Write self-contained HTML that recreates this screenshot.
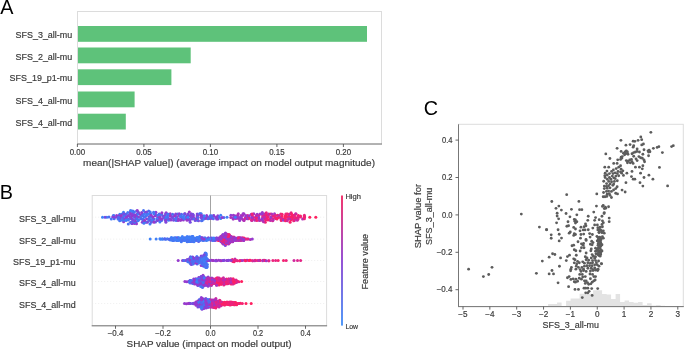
<!DOCTYPE html>
<html><head><meta charset="utf-8"><style>
html,body{margin:0;padding:0;background:#fff;}
svg{display:block;font-family:"Liberation Sans",sans-serif;filter:blur(0.35px);}
</style></head><body>
<svg width="685" height="350" viewBox="0 0 685 350">
<text x="0.3" y="13.6" font-size="19.8" text-anchor="start" fill="#000" >A</text>
<text x="-0.3" y="198.7" font-size="19.8" text-anchor="start" fill="#000" >B</text>
<text x="423.8" y="115.0" font-size="19.8" text-anchor="start" fill="#000" >C</text>
<rect x="77.5" y="11.5" width="304.0" height="132.5" fill="none" stroke="#dcdcdc" stroke-width="1"/>
<rect x="78.0" y="26.00" width="289.00" height="15.8" fill="#5ec27a"/>
<text x="72.2" y="38.00" font-size="8.9" text-anchor="end" fill="#3a3a3a" stroke="#3a3a3a" stroke-width="0.18" textLength="56.6" lengthAdjust="spacingAndGlyphs" >SFS_3_all-mu</text>
<rect x="78.0" y="47.50" width="112.70" height="15.8" fill="#5ec27a"/>
<text x="72.2" y="59.50" font-size="8.9" text-anchor="end" fill="#3a3a3a" stroke="#3a3a3a" stroke-width="0.18" textLength="56.6" lengthAdjust="spacingAndGlyphs" >SFS_2_all-mu</text>
<rect x="78.0" y="69.30" width="93.40" height="15.8" fill="#5ec27a"/>
<text x="72.2" y="81.30" font-size="8.9" text-anchor="end" fill="#3a3a3a" stroke="#3a3a3a" stroke-width="0.18" textLength="62.6" lengthAdjust="spacingAndGlyphs" >SFS_19_p1-mu</text>
<rect x="78.0" y="91.50" width="56.60" height="15.8" fill="#5ec27a"/>
<text x="72.2" y="103.50" font-size="8.9" text-anchor="end" fill="#3a3a3a" stroke="#3a3a3a" stroke-width="0.18" textLength="56.6" lengthAdjust="spacingAndGlyphs" >SFS_4_all-mu</text>
<rect x="78.0" y="113.70" width="47.80" height="15.8" fill="#5ec27a"/>
<text x="72.2" y="125.70" font-size="8.9" text-anchor="end" fill="#3a3a3a" stroke="#3a3a3a" stroke-width="0.18" textLength="56.6" lengthAdjust="spacingAndGlyphs" >SFS_4_all-md</text>
<line x1="77.0" y1="144.0" x2="382.0" y2="144.0" stroke="#777" stroke-width="1"/>
<line x1="77.4" y1="144.0" x2="77.4" y2="147.0" stroke="#555" stroke-width="0.9"/>
<text x="77.4" y="154.5" font-size="8.2" text-anchor="middle" fill="#3a3a3a" stroke="#3a3a3a" stroke-width="0.18" textLength="15.4" lengthAdjust="spacingAndGlyphs" >0.00</text>
<line x1="143.9" y1="144.0" x2="143.9" y2="147.0" stroke="#555" stroke-width="0.9"/>
<text x="143.9" y="154.5" font-size="8.2" text-anchor="middle" fill="#3a3a3a" stroke="#3a3a3a" stroke-width="0.18" textLength="15.4" lengthAdjust="spacingAndGlyphs" >0.05</text>
<line x1="210.4" y1="144.0" x2="210.4" y2="147.0" stroke="#555" stroke-width="0.9"/>
<text x="210.4" y="154.5" font-size="8.2" text-anchor="middle" fill="#3a3a3a" stroke="#3a3a3a" stroke-width="0.18" textLength="15.4" lengthAdjust="spacingAndGlyphs" >0.10</text>
<line x1="276.9" y1="144.0" x2="276.9" y2="147.0" stroke="#555" stroke-width="0.9"/>
<text x="276.9" y="154.5" font-size="8.2" text-anchor="middle" fill="#3a3a3a" stroke="#3a3a3a" stroke-width="0.18" textLength="15.4" lengthAdjust="spacingAndGlyphs" >0.15</text>
<line x1="343.4" y1="144.0" x2="343.4" y2="147.0" stroke="#555" stroke-width="0.9"/>
<text x="343.4" y="154.5" font-size="8.2" text-anchor="middle" fill="#3a3a3a" stroke="#3a3a3a" stroke-width="0.18" textLength="15.4" lengthAdjust="spacingAndGlyphs" >0.20</text>
<text x="83.1" y="165.6" font-size="9.3" text-anchor="start" fill="#3a3a3a" stroke="#3a3a3a" stroke-width="0.18" textLength="291.9" lengthAdjust="spacingAndGlyphs" >mean(|SHAP value|) (average impact on model output magnitude)</text>
<rect x="92.2" y="195.5" width="234.40000000000003" height="130.3" fill="none" stroke="#dcdcdc" stroke-width="1"/>
<line x1="92.2" y1="217.2" x2="326.6" y2="217.2" stroke="#e4e4e4" stroke-width="0.6" stroke-dasharray="1,2"/>
<text x="75.6" y="222.00" font-size="8.9" text-anchor="end" fill="#3a3a3a" stroke="#3a3a3a" stroke-width="0.18" textLength="56.6" lengthAdjust="spacingAndGlyphs" >SFS_3_all-mu</text>
<line x1="92.2" y1="239.1" x2="326.6" y2="239.1" stroke="#e4e4e4" stroke-width="0.6" stroke-dasharray="1,2"/>
<text x="75.6" y="243.90" font-size="8.9" text-anchor="end" fill="#3a3a3a" stroke="#3a3a3a" stroke-width="0.18" textLength="56.6" lengthAdjust="spacingAndGlyphs" >SFS_2_all-mu</text>
<line x1="92.2" y1="260.5" x2="326.6" y2="260.5" stroke="#e4e4e4" stroke-width="0.6" stroke-dasharray="1,2"/>
<text x="75.6" y="265.30" font-size="8.9" text-anchor="end" fill="#3a3a3a" stroke="#3a3a3a" stroke-width="0.18" textLength="62.6" lengthAdjust="spacingAndGlyphs" >SFS_19_p1-mu</text>
<line x1="92.2" y1="281.5" x2="326.6" y2="281.5" stroke="#e4e4e4" stroke-width="0.6" stroke-dasharray="1,2"/>
<text x="75.6" y="286.30" font-size="8.9" text-anchor="end" fill="#3a3a3a" stroke="#3a3a3a" stroke-width="0.18" textLength="56.6" lengthAdjust="spacingAndGlyphs" >SFS_4_all-mu</text>
<line x1="92.2" y1="303.5" x2="326.6" y2="303.5" stroke="#e4e4e4" stroke-width="0.6" stroke-dasharray="1,2"/>
<text x="75.6" y="308.30" font-size="8.9" text-anchor="end" fill="#3a3a3a" stroke="#3a3a3a" stroke-width="0.18" textLength="56.6" lengthAdjust="spacingAndGlyphs" >SFS_4_all-md</text>
<line x1="210.5" y1="195.5" x2="210.5" y2="325.8" stroke="#999" stroke-width="0.9"/>
<g><circle cx="232.5" cy="241.6" r="1.5" fill="#a234c3"/><circle cx="199.7" cy="236.5" r="1.5" fill="#4579f5"/><circle cx="229.1" cy="304.5" r="1.5" fill="#f32273"/><circle cx="213.6" cy="283.0" r="1.5" fill="#e1258b"/><circle cx="197.0" cy="303.4" r="1.5" fill="#903cd3"/><circle cx="142.9" cy="219.1" r="1.5" fill="#5269ef"/><circle cx="202.2" cy="220.5" r="1.5" fill="#4a71f2"/><circle cx="193.0" cy="237.8" r="1.5" fill="#4776f4"/><circle cx="206.1" cy="265.0" r="1.5" fill="#4a72f2"/><circle cx="270.3" cy="218.9" r="1.5" fill="#fd2064"/><circle cx="190.2" cy="222.2" r="1.5" fill="#764de0"/><circle cx="213.8" cy="215.8" r="1.5" fill="#437bf5"/><circle cx="222.4" cy="302.2" r="1.5" fill="#fa2168"/><circle cx="218.4" cy="304.5" r="1.5" fill="#c929a3"/><circle cx="188.5" cy="259.5" r="1.5" fill="#4973f3"/><circle cx="246.2" cy="260.2" r="1.5" fill="#e22489"/><circle cx="128.6" cy="219.1" r="1.5" fill="#516aef"/><circle cx="222.0" cy="281.7" r="1.5" fill="#d82694"/><circle cx="267.1" cy="215.6" r="1.5" fill="#ed237a"/><circle cx="118.9" cy="219.0" r="1.5" fill="#8c3ed6"/><circle cx="207.4" cy="239.1" r="1.5" fill="#923cd1"/><circle cx="212.9" cy="240.4" r="1.5" fill="#427df6"/><circle cx="230.6" cy="283.8" r="1.5" fill="#fe2061"/><circle cx="206.9" cy="267.6" r="1.5" fill="#427cf6"/><circle cx="227.8" cy="260.5" r="1.5" fill="#943acf"/><circle cx="226.8" cy="236.8" r="1.5" fill="#8841d8"/><circle cx="291.1" cy="212.7" r="1.5" fill="#e92480"/><circle cx="234.9" cy="304.7" r="1.5" fill="#e92480"/><circle cx="134.3" cy="217.1" r="1.5" fill="#437bf5"/><circle cx="230.0" cy="280.6" r="1.5" fill="#f6226e"/><circle cx="123.6" cy="221.8" r="1.5" fill="#923bd1"/><circle cx="288.8" cy="215.9" r="1.5" fill="#a234c3"/><circle cx="204.8" cy="266.2" r="1.5" fill="#4775f3"/><circle cx="204.4" cy="300.2" r="1.5" fill="#913cd2"/><circle cx="210.9" cy="240.3" r="1.5" fill="#7a4ade"/><circle cx="190.7" cy="241.4" r="1.5" fill="#6857e6"/><circle cx="222.4" cy="243.0" r="1.5" fill="#f8216a"/><circle cx="222.5" cy="260.6" r="1.5" fill="#8543d9"/><circle cx="196.0" cy="282.8" r="1.5" fill="#3f81f8"/><circle cx="206.5" cy="302.3" r="1.5" fill="#447af5"/><circle cx="176.1" cy="239.4" r="1.5" fill="#3f80f7"/><circle cx="223.8" cy="285.1" r="1.5" fill="#e42487"/><circle cx="285.4" cy="218.6" r="1.5" fill="#fa2167"/><circle cx="215.4" cy="279.0" r="1.5" fill="#ba2cb1"/><circle cx="219.2" cy="240.6" r="1.5" fill="#903cd3"/><circle cx="205.0" cy="277.7" r="1.5" fill="#9c37c8"/><circle cx="230.4" cy="236.7" r="1.5" fill="#ad31bb"/><circle cx="212.4" cy="217.4" r="1.5" fill="#4578f4"/><circle cx="157.7" cy="217.4" r="1.5" fill="#903cd3"/><circle cx="197.5" cy="218.9" r="1.5" fill="#5666ed"/><circle cx="131.2" cy="218.7" r="1.5" fill="#506bef"/><circle cx="268.0" cy="220.1" r="1.5" fill="#fa2169"/><circle cx="192.0" cy="282.8" r="1.5" fill="#8a3fd7"/><circle cx="219.6" cy="305.0" r="1.5" fill="#ac31bc"/><circle cx="170.7" cy="215.6" r="1.5" fill="#9a38ca"/><circle cx="208.9" cy="284.9" r="1.5" fill="#9938cb"/><circle cx="211.9" cy="306.2" r="1.5" fill="#a533c1"/><circle cx="293.9" cy="215.3" r="1.5" fill="#ed237a"/><circle cx="202.3" cy="284.2" r="1.5" fill="#9739cd"/><circle cx="206.0" cy="303.2" r="1.5" fill="#744ee1"/><circle cx="183.7" cy="239.0" r="1.5" fill="#5e5fea"/><circle cx="205.8" cy="281.2" r="1.5" fill="#447af5"/><circle cx="201.4" cy="276.4" r="1.5" fill="#9639cd"/><circle cx="145.2" cy="212.2" r="1.5" fill="#903cd3"/><circle cx="260.0" cy="213.9" r="1.5" fill="#9a38ca"/><circle cx="201.9" cy="240.1" r="1.5" fill="#774ce0"/><circle cx="144.6" cy="217.0" r="1.5" fill="#4479f5"/><circle cx="221.1" cy="240.4" r="1.5" fill="#8b3fd7"/><circle cx="146.8" cy="212.1" r="1.5" fill="#8245db"/><circle cx="203.4" cy="240.0" r="1.5" fill="#9d36c7"/><circle cx="208.8" cy="283.8" r="1.5" fill="#bc2caf"/><circle cx="120.7" cy="217.3" r="1.5" fill="#774ce0"/><circle cx="170.2" cy="213.7" r="1.5" fill="#9c37c8"/><circle cx="213.6" cy="260.4" r="1.5" fill="#a035c5"/><circle cx="236.4" cy="303.8" r="1.5" fill="#f22274"/><circle cx="211.2" cy="306.1" r="1.5" fill="#ae30ba"/><circle cx="295.6" cy="217.4" r="1.5" fill="#f7226d"/><circle cx="272.6" cy="215.9" r="1.5" fill="#ba2cb0"/><circle cx="148.7" cy="211.1" r="1.5" fill="#516aef"/><circle cx="208.1" cy="307.1" r="1.5" fill="#9b37c9"/><circle cx="142.4" cy="214.0" r="1.5" fill="#7e47dc"/><circle cx="298.4" cy="215.6" r="1.5" fill="#f8216c"/><circle cx="195.8" cy="281.4" r="1.5" fill="#4b70f1"/><circle cx="216.3" cy="281.4" r="1.5" fill="#fe2062"/><circle cx="213.2" cy="302.2" r="1.5" fill="#e32488"/><circle cx="200.8" cy="258.0" r="1.5" fill="#4b70f1"/><circle cx="172.5" cy="217.0" r="1.5" fill="#5765ed"/><circle cx="149.0" cy="218.9" r="1.5" fill="#933bd0"/><circle cx="201.6" cy="300.9" r="1.5" fill="#4e6cf0"/><circle cx="148.8" cy="220.5" r="1.5" fill="#4972f2"/><circle cx="198.7" cy="304.6" r="1.5" fill="#953acf"/><circle cx="223.8" cy="281.7" r="1.5" fill="#b22fb7"/><circle cx="201.3" cy="297.4" r="1.5" fill="#8b3fd7"/><circle cx="206.8" cy="260.4" r="1.5" fill="#8c3ed6"/><circle cx="243.1" cy="238.2" r="1.5" fill="#fb2167"/><circle cx="164.0" cy="217.4" r="1.5" fill="#933bd0"/><circle cx="155.9" cy="212.2" r="1.5" fill="#8940d7"/><circle cx="159.3" cy="214.0" r="1.5" fill="#8a3fd7"/><circle cx="199.0" cy="277.7" r="1.5" fill="#9a38ca"/><circle cx="162.6" cy="215.8" r="1.5" fill="#764de0"/><circle cx="202.4" cy="307.3" r="1.5" fill="#4c6ef1"/><circle cx="199.4" cy="299.6" r="1.5" fill="#5864ec"/><circle cx="225.5" cy="232.9" r="1.5" fill="#8c3ed6"/><circle cx="197.2" cy="304.9" r="1.5" fill="#903cd3"/><circle cx="170.9" cy="220.1" r="1.5" fill="#9839cc"/><circle cx="217.0" cy="240.1" r="1.5" fill="#fe2062"/><circle cx="220.6" cy="304.8" r="1.5" fill="#c12baa"/><circle cx="240.2" cy="240.4" r="1.5" fill="#f12275"/><circle cx="219.0" cy="279.4" r="1.5" fill="#ef2378"/><circle cx="203.1" cy="216.9" r="1.5" fill="#744ee1"/><circle cx="199.8" cy="240.5" r="1.5" fill="#447af5"/><circle cx="259.8" cy="260.6" r="1.5" fill="#c22baa"/><circle cx="206.2" cy="254.5" r="1.5" fill="#4d6ef1"/><circle cx="219.4" cy="281.6" r="1.5" fill="#e0258c"/><circle cx="189.4" cy="241.5" r="1.5" fill="#407ff7"/><circle cx="222.8" cy="239.3" r="1.5" fill="#f52270"/><circle cx="209.8" cy="280.1" r="1.5" fill="#b72db3"/><circle cx="264.4" cy="215.8" r="1.5" fill="#f22275"/><circle cx="201.3" cy="283.6" r="1.5" fill="#9b37c9"/><circle cx="237.9" cy="303.5" r="1.5" fill="#fb2166"/><circle cx="190.0" cy="239.4" r="1.5" fill="#447af5"/><circle cx="130.2" cy="214.2" r="1.5" fill="#9938cb"/><circle cx="203.9" cy="298.9" r="1.5" fill="#4a71f2"/><circle cx="219.8" cy="282.4" r="1.5" fill="#e2248a"/><circle cx="203.4" cy="306.0" r="1.5" fill="#7d48dd"/><circle cx="290.7" cy="220.1" r="1.5" fill="#fd2063"/><circle cx="289.3" cy="217.1" r="1.5" fill="#f6226e"/><circle cx="198.5" cy="260.8" r="1.5" fill="#427df6"/><circle cx="210.4" cy="302.6" r="1.5" fill="#e42486"/><circle cx="239.9" cy="237.6" r="1.5" fill="#b92db1"/><circle cx="201.1" cy="262.6" r="1.5" fill="#4d6ef1"/><circle cx="213.9" cy="283.6" r="1.5" fill="#d92694"/><circle cx="205.5" cy="306.9" r="1.5" fill="#903cd2"/><circle cx="235.0" cy="259.0" r="1.5" fill="#ba2cb1"/><circle cx="207.7" cy="302.2" r="1.5" fill="#3f80f7"/><circle cx="233.9" cy="280.1" r="1.5" fill="#c52aa7"/><circle cx="219.6" cy="238.8" r="1.5" fill="#cf289d"/><circle cx="217.7" cy="281.3" r="1.5" fill="#da2693"/><circle cx="219.4" cy="239.2" r="1.5" fill="#9d36c8"/><circle cx="192.7" cy="283.6" r="1.5" fill="#4578f5"/><circle cx="209.0" cy="218.6" r="1.5" fill="#9938cb"/><circle cx="241.5" cy="240.3" r="1.5" fill="#f22274"/><circle cx="204.6" cy="281.8" r="1.5" fill="#9b37c9"/><circle cx="155.6" cy="215.5" r="1.5" fill="#9c37c8"/><circle cx="201.2" cy="261.6" r="1.5" fill="#427df6"/><circle cx="182.6" cy="216.9" r="1.5" fill="#9d36c8"/><circle cx="202.5" cy="262.7" r="1.5" fill="#4578f4"/><circle cx="203.6" cy="286.1" r="1.5" fill="#8245db"/><circle cx="200.2" cy="261.4" r="1.5" fill="#4e6cf0"/><circle cx="225.7" cy="280.5" r="1.5" fill="#f8216b"/><circle cx="157.8" cy="219.1" r="1.5" fill="#4a71f2"/><circle cx="197.9" cy="259.3" r="1.5" fill="#9b37c9"/><circle cx="228.4" cy="243.6" r="1.5" fill="#ef2378"/><circle cx="191.2" cy="238.8" r="1.5" fill="#417ef7"/><circle cx="218.5" cy="284.1" r="1.5" fill="#d1279b"/><circle cx="181.2" cy="238.8" r="1.5" fill="#4080f7"/><circle cx="224.0" cy="303.7" r="1.5" fill="#f32273"/><circle cx="203.0" cy="275.2" r="1.5" fill="#9c37c8"/><circle cx="251.5" cy="218.7" r="1.5" fill="#e42487"/><circle cx="202.2" cy="285.1" r="1.5" fill="#8245db"/><circle cx="134.4" cy="223.4" r="1.5" fill="#9f36c6"/><circle cx="222.3" cy="280.3" r="1.5" fill="#fe2061"/><circle cx="296.1" cy="214.1" r="1.5" fill="#e72483"/><circle cx="228.7" cy="278.8" r="1.5" fill="#d72696"/><circle cx="196.0" cy="238.0" r="1.5" fill="#417ef7"/><circle cx="196.0" cy="304.9" r="1.5" fill="#9f35c6"/><circle cx="238.8" cy="303.6" r="1.5" fill="#ed237a"/><circle cx="252.7" cy="260.8" r="1.5" fill="#c12bab"/><circle cx="176.2" cy="220.6" r="1.5" fill="#427cf6"/><circle cx="143.5" cy="210.6" r="1.5" fill="#4973f3"/><circle cx="224.8" cy="282.6" r="1.5" fill="#c829a4"/><circle cx="208.4" cy="307.2" r="1.5" fill="#8642d9"/><circle cx="203.6" cy="266.3" r="1.5" fill="#3e82f8"/><circle cx="176.7" cy="217.0" r="1.5" fill="#8940d7"/><circle cx="177.3" cy="237.9" r="1.5" fill="#447af5"/><circle cx="202.4" cy="298.6" r="1.5" fill="#a035c5"/><circle cx="192.7" cy="257.1" r="1.5" fill="#764ce0"/><circle cx="150.0" cy="223.9" r="1.5" fill="#427cf6"/><circle cx="197.2" cy="264.0" r="1.5" fill="#4a71f2"/><circle cx="216.1" cy="306.2" r="1.5" fill="#ac31bc"/><circle cx="185.6" cy="218.7" r="1.5" fill="#a035c5"/><circle cx="158.2" cy="220.2" r="1.5" fill="#774ce0"/><circle cx="161.6" cy="220.5" r="1.5" fill="#4973f2"/><circle cx="205.5" cy="239.2" r="1.5" fill="#4d6df0"/><circle cx="153.2" cy="220.7" r="1.5" fill="#8344da"/><circle cx="190.2" cy="259.1" r="1.5" fill="#8344da"/><circle cx="176.2" cy="217.1" r="1.5" fill="#4a72f2"/><circle cx="216.7" cy="260.7" r="1.5" fill="#9639cd"/><circle cx="189.1" cy="303.2" r="1.5" fill="#943acf"/><circle cx="118.0" cy="219.0" r="1.5" fill="#4776f4"/><circle cx="260.7" cy="220.2" r="1.5" fill="#e0258c"/><circle cx="262.7" cy="217.4" r="1.5" fill="#d42798"/><circle cx="206.3" cy="303.5" r="1.5" fill="#4677f4"/><circle cx="286.9" cy="214.0" r="1.5" fill="#fd2064"/><circle cx="155.5" cy="222.0" r="1.5" fill="#5567ee"/><circle cx="211.4" cy="285.4" r="1.5" fill="#ac31bb"/><circle cx="300.5" cy="215.9" r="1.5" fill="#ff2060"/><circle cx="236.3" cy="240.4" r="1.5" fill="#9e36c7"/><circle cx="280.9" cy="218.7" r="1.5" fill="#c62aa5"/><circle cx="165.9" cy="222.3" r="1.5" fill="#7f46dc"/><circle cx="217.9" cy="219.0" r="1.5" fill="#8c3ed6"/><circle cx="203.3" cy="304.4" r="1.5" fill="#4b70f1"/><circle cx="136.6" cy="210.9" r="1.5" fill="#4d6df0"/><circle cx="251.9" cy="220.6" r="1.5" fill="#a832bf"/><circle cx="230.9" cy="215.3" r="1.5" fill="#903cd3"/><circle cx="201.2" cy="238.8" r="1.5" fill="#8741d8"/><circle cx="140.9" cy="215.3" r="1.5" fill="#9938cb"/><circle cx="224.6" cy="234.0" r="1.5" fill="#903cd2"/><circle cx="189.3" cy="259.0" r="1.5" fill="#516aef"/><circle cx="196.5" cy="260.5" r="1.5" fill="#9e36c7"/><circle cx="212.5" cy="238.9" r="1.5" fill="#933bd0"/><circle cx="199.2" cy="260.3" r="1.5" fill="#407ff7"/><circle cx="122.1" cy="214.1" r="1.5" fill="#4874f3"/><circle cx="232.7" cy="240.2" r="1.5" fill="#bf2bac"/><circle cx="186.8" cy="281.7" r="1.5" fill="#903cd3"/><circle cx="201.3" cy="281.3" r="1.5" fill="#8d3dd5"/><circle cx="184.2" cy="237.8" r="1.5" fill="#5f5eea"/><circle cx="176.2" cy="219.0" r="1.5" fill="#9a38ca"/><circle cx="224.2" cy="235.6" r="1.5" fill="#a832bf"/><circle cx="166.1" cy="212.7" r="1.5" fill="#943acf"/><circle cx="247.4" cy="239.1" r="1.5" fill="#943acf"/><circle cx="287.0" cy="217.0" r="1.5" fill="#f42271"/><circle cx="217.7" cy="302.1" r="1.5" fill="#e0258b"/><circle cx="232.5" cy="239.0" r="1.5" fill="#f42272"/><circle cx="190.6" cy="303.5" r="1.5" fill="#764de0"/><circle cx="197.8" cy="285.4" r="1.5" fill="#7b49de"/><circle cx="200.8" cy="259.0" r="1.5" fill="#4972f2"/><circle cx="243.7" cy="238.8" r="1.5" fill="#9639cd"/><circle cx="253.4" cy="217.5" r="1.5" fill="#af30b9"/><circle cx="201.7" cy="260.3" r="1.5" fill="#3f80f7"/><circle cx="271.0" cy="217.1" r="1.5" fill="#df258d"/><circle cx="196.9" cy="256.6" r="1.5" fill="#4973f3"/><circle cx="204.7" cy="282.6" r="1.5" fill="#3e81f8"/><circle cx="195.4" cy="240.3" r="1.5" fill="#4d6df0"/><circle cx="247.6" cy="215.4" r="1.5" fill="#e32488"/><circle cx="255.9" cy="218.7" r="1.5" fill="#bf2bac"/><circle cx="304.7" cy="217.0" r="1.5" fill="#e9237f"/><circle cx="192.0" cy="218.9" r="1.5" fill="#754de1"/><circle cx="193.7" cy="278.9" r="1.5" fill="#953ace"/><circle cx="126.6" cy="217.4" r="1.5" fill="#417ef7"/><circle cx="217.8" cy="277.7" r="1.5" fill="#c32aa9"/><circle cx="224.2" cy="260.2" r="1.5" fill="#8a3fd7"/><circle cx="218.5" cy="240.6" r="1.5" fill="#ff2061"/><circle cx="210.6" cy="303.7" r="1.5" fill="#c829a3"/><circle cx="132.2" cy="221.9" r="1.5" fill="#943bcf"/><circle cx="167.7" cy="217.5" r="1.5" fill="#4676f4"/><circle cx="219.1" cy="307.1" r="1.5" fill="#c72aa5"/><circle cx="213.7" cy="215.4" r="1.5" fill="#963ace"/><circle cx="227.1" cy="235.6" r="1.5" fill="#8046dc"/><circle cx="128.3" cy="223.9" r="1.5" fill="#4b70f1"/><circle cx="202.4" cy="286.0" r="1.5" fill="#7c49dd"/><circle cx="216.7" cy="281.7" r="1.5" fill="#f02377"/><circle cx="228.0" cy="241.4" r="1.5" fill="#9d36c7"/><circle cx="200.3" cy="280.0" r="1.5" fill="#7a4ade"/><circle cx="210.9" cy="218.6" r="1.5" fill="#8c3ed6"/><circle cx="282.7" cy="219.1" r="1.5" fill="#af30b9"/><circle cx="223.1" cy="279.2" r="1.5" fill="#f92169"/><circle cx="191.3" cy="240.4" r="1.5" fill="#4775f3"/><circle cx="221.4" cy="303.3" r="1.5" fill="#ba2cb0"/><circle cx="197.5" cy="258.1" r="1.5" fill="#3f80f7"/><circle cx="264.7" cy="260.3" r="1.5" fill="#a334c3"/><circle cx="220.7" cy="218.5" r="1.5" fill="#417ef6"/><circle cx="266.3" cy="212.7" r="1.5" fill="#eb237e"/><circle cx="203.7" cy="279.0" r="1.5" fill="#9b37c9"/><circle cx="211.2" cy="283.6" r="1.5" fill="#bb2cb0"/><circle cx="146.0" cy="222.2" r="1.5" fill="#9938cb"/><circle cx="178.4" cy="238.9" r="1.5" fill="#5b61eb"/><circle cx="244.0" cy="237.9" r="1.5" fill="#f22274"/><circle cx="200.7" cy="304.9" r="1.5" fill="#784ce0"/><circle cx="232.3" cy="259.4" r="1.5" fill="#f8216b"/><circle cx="212.8" cy="260.6" r="1.5" fill="#9b37c9"/><circle cx="208.2" cy="301.0" r="1.5" fill="#8046db"/><circle cx="199.3" cy="301.4" r="1.5" fill="#903cd3"/><circle cx="189.4" cy="238.0" r="1.5" fill="#4973f3"/><circle cx="136.2" cy="221.7" r="1.5" fill="#8344da"/><circle cx="189.8" cy="220.1" r="1.5" fill="#8940d8"/><circle cx="155.4" cy="213.9" r="1.5" fill="#8742d9"/><circle cx="258.9" cy="215.5" r="1.5" fill="#de258f"/><circle cx="207.8" cy="299.6" r="1.5" fill="#4677f4"/><circle cx="206.7" cy="215.4" r="1.5" fill="#9639cd"/><circle cx="202.3" cy="305.7" r="1.5" fill="#5169ef"/><circle cx="222.1" cy="278.9" r="1.5" fill="#d2279b"/><circle cx="213.7" cy="305.9" r="1.5" fill="#eb237e"/><circle cx="211.2" cy="301.0" r="1.5" fill="#e72483"/><circle cx="205.9" cy="298.6" r="1.5" fill="#8741d8"/><circle cx="164.8" cy="219.1" r="1.5" fill="#437bf5"/><circle cx="201.4" cy="302.6" r="1.5" fill="#8542d9"/><circle cx="258.6" cy="218.5" r="1.5" fill="#9739cc"/><circle cx="237.4" cy="260.8" r="1.5" fill="#f8216c"/><circle cx="243.6" cy="220.2" r="1.5" fill="#a932be"/><circle cx="225.6" cy="236.9" r="1.5" fill="#fd2063"/><circle cx="201.2" cy="265.6" r="1.5" fill="#943acf"/><circle cx="234.9" cy="238.2" r="1.5" fill="#963ace"/><circle cx="152.8" cy="218.8" r="1.5" fill="#5467ee"/><circle cx="132.6" cy="215.5" r="1.5" fill="#8245db"/><circle cx="192.1" cy="257.2" r="1.5" fill="#774ce0"/><circle cx="231.5" cy="304.4" r="1.5" fill="#f42271"/><circle cx="128.5" cy="215.3" r="1.5" fill="#4874f3"/><circle cx="167.0" cy="218.7" r="1.5" fill="#5764ec"/><circle cx="216.6" cy="278.1" r="1.5" fill="#fa2169"/><circle cx="206.6" cy="285.2" r="1.5" fill="#8d3ed5"/><circle cx="245.5" cy="217.2" r="1.5" fill="#953ace"/><circle cx="268.6" cy="213.9" r="1.5" fill="#a832bf"/><circle cx="165.4" cy="220.5" r="1.5" fill="#8245db"/><circle cx="277.5" cy="215.3" r="1.5" fill="#f8216b"/><circle cx="198.5" cy="303.2" r="1.5" fill="#8543d9"/><circle cx="220.3" cy="260.6" r="1.5" fill="#8642d9"/><circle cx="191.7" cy="260.2" r="1.5" fill="#903cd3"/><circle cx="233.5" cy="260.4" r="1.5" fill="#bb2cb0"/><circle cx="241.0" cy="215.5" r="1.5" fill="#a434c2"/><circle cx="132.8" cy="211.0" r="1.5" fill="#4a72f2"/><circle cx="202.7" cy="308.2" r="1.5" fill="#8046dc"/><circle cx="217.5" cy="279.1" r="1.5" fill="#e0258c"/><circle cx="222.6" cy="237.8" r="1.5" fill="#a434c2"/><circle cx="190.9" cy="264.0" r="1.5" fill="#4a71f2"/><circle cx="113.8" cy="215.5" r="1.5" fill="#5368ee"/><circle cx="281.2" cy="220.4" r="1.5" fill="#fa2169"/><circle cx="130.2" cy="212.2" r="1.5" fill="#9938cb"/><circle cx="296.7" cy="218.9" r="1.5" fill="#f42271"/><circle cx="232.8" cy="261.5" r="1.5" fill="#f52271"/><circle cx="205.7" cy="255.9" r="1.5" fill="#4578f4"/><circle cx="283.9" cy="218.9" r="1.5" fill="#fa2168"/><circle cx="230.9" cy="278.8" r="1.5" fill="#f9216a"/><circle cx="206.0" cy="261.9" r="1.5" fill="#4b70f1"/><circle cx="172.9" cy="238.0" r="1.5" fill="#4e6df0"/><circle cx="191.9" cy="259.3" r="1.5" fill="#8a3fd7"/><circle cx="182.5" cy="260.4" r="1.5" fill="#923bd1"/><circle cx="218.4" cy="302.1" r="1.5" fill="#bf2bad"/><circle cx="217.4" cy="301.1" r="1.5" fill="#ce289e"/><circle cx="216.7" cy="280.2" r="1.5" fill="#ee237a"/><circle cx="239.3" cy="303.6" r="1.5" fill="#e82481"/><circle cx="265.3" cy="222.2" r="1.5" fill="#f22274"/><circle cx="190.3" cy="281.4" r="1.5" fill="#903cd3"/><circle cx="210.3" cy="306.8" r="1.5" fill="#a533c1"/><circle cx="245.3" cy="238.9" r="1.5" fill="#f9216a"/><circle cx="175.7" cy="237.8" r="1.5" fill="#5169ef"/><circle cx="178.0" cy="220.5" r="1.5" fill="#9a37ca"/><circle cx="227.7" cy="234.3" r="1.5" fill="#a932be"/><circle cx="292.5" cy="219.0" r="1.5" fill="#fd2063"/><circle cx="206.7" cy="278.0" r="1.5" fill="#8741d8"/><circle cx="242.3" cy="303.4" r="1.5" fill="#f32273"/><circle cx="151.3" cy="222.3" r="1.5" fill="#5864ec"/><circle cx="203.0" cy="240.6" r="1.5" fill="#407ff7"/><circle cx="204.7" cy="237.9" r="1.5" fill="#933bd0"/><circle cx="225.4" cy="304.8" r="1.5" fill="#ef2377"/><circle cx="262.6" cy="215.8" r="1.5" fill="#d82695"/><circle cx="199.7" cy="257.9" r="1.5" fill="#4a71f2"/><circle cx="157.6" cy="215.3" r="1.5" fill="#4578f4"/><circle cx="125.5" cy="215.8" r="1.5" fill="#5467ee"/><circle cx="137.9" cy="220.7" r="1.5" fill="#3f80f7"/><circle cx="113.2" cy="215.7" r="1.5" fill="#427cf6"/><circle cx="205.4" cy="279.3" r="1.5" fill="#5765ed"/><circle cx="275.0" cy="217.2" r="1.5" fill="#fd2063"/><circle cx="119.8" cy="214.2" r="1.5" fill="#3f80f7"/><circle cx="221.3" cy="278.9" r="1.5" fill="#fb2167"/><circle cx="132.4" cy="222.0" r="1.5" fill="#4d6df0"/><circle cx="201.6" cy="303.3" r="1.5" fill="#417df6"/><circle cx="239.2" cy="239.2" r="1.5" fill="#ea237f"/><circle cx="202.9" cy="239.3" r="1.5" fill="#5566ed"/><circle cx="221.9" cy="235.8" r="1.5" fill="#f6226e"/><circle cx="233.9" cy="237.0" r="1.5" fill="#fd2063"/><circle cx="133.6" cy="214.3" r="1.5" fill="#8b3fd7"/><circle cx="165.5" cy="214.0" r="1.5" fill="#754de1"/><circle cx="236.7" cy="304.8" r="1.5" fill="#fb2166"/><circle cx="289.6" cy="214.3" r="1.5" fill="#be2bae"/><circle cx="217.8" cy="238.9" r="1.5" fill="#903cd3"/><circle cx="216.0" cy="282.4" r="1.5" fill="#c52aa6"/><circle cx="212.0" cy="238.1" r="1.5" fill="#3f81f8"/><circle cx="226.5" cy="279.0" r="1.5" fill="#f9216a"/><circle cx="221.0" cy="241.8" r="1.5" fill="#943bd0"/><circle cx="206.9" cy="239.1" r="1.5" fill="#516aef"/><circle cx="204.0" cy="303.5" r="1.5" fill="#4080f7"/><circle cx="197.0" cy="302.3" r="1.5" fill="#8d3ed5"/><circle cx="198.0" cy="283.8" r="1.5" fill="#5864ec"/><circle cx="188.1" cy="239.0" r="1.5" fill="#4973f3"/><circle cx="224.8" cy="238.9" r="1.5" fill="#9d36c8"/><circle cx="196.2" cy="260.4" r="1.5" fill="#9f36c6"/><circle cx="224.9" cy="281.3" r="1.5" fill="#d1279b"/><circle cx="187.6" cy="218.6" r="1.5" fill="#7c49de"/><circle cx="221.7" cy="236.5" r="1.5" fill="#ee2379"/><circle cx="172.4" cy="238.8" r="1.5" fill="#427cf6"/><circle cx="251.3" cy="214.2" r="1.5" fill="#a135c4"/><circle cx="269.0" cy="260.8" r="1.5" fill="#c829a4"/><circle cx="165.9" cy="239.2" r="1.5" fill="#427df6"/><circle cx="196.0" cy="257.8" r="1.5" fill="#794bdf"/><circle cx="126.1" cy="218.7" r="1.5" fill="#8940d7"/><circle cx="220.6" cy="283.0" r="1.5" fill="#ea237f"/><circle cx="198.1" cy="239.0" r="1.5" fill="#437bf5"/><circle cx="187.7" cy="260.7" r="1.5" fill="#4080f7"/><circle cx="237.5" cy="215.3" r="1.5" fill="#b52eb5"/><circle cx="222.8" cy="242.9" r="1.5" fill="#8444da"/><circle cx="112.7" cy="217.1" r="1.5" fill="#913cd2"/><circle cx="240.2" cy="218.5" r="1.5" fill="#b030b8"/><circle cx="223.5" cy="236.9" r="1.5" fill="#9839cc"/><circle cx="256.2" cy="218.9" r="1.5" fill="#ef2378"/><circle cx="182.6" cy="238.2" r="1.5" fill="#4678f4"/><circle cx="202.2" cy="281.5" r="1.5" fill="#8146db"/><circle cx="196.6" cy="239.2" r="1.5" fill="#427cf6"/><circle cx="232.3" cy="303.3" r="1.5" fill="#e82481"/><circle cx="233.1" cy="219.0" r="1.5" fill="#a434c2"/><circle cx="238.3" cy="218.6" r="1.5" fill="#ac31bc"/><circle cx="223.6" cy="237.8" r="1.5" fill="#f02377"/><circle cx="285.5" cy="215.7" r="1.5" fill="#fc2164"/><circle cx="210.2" cy="215.7" r="1.5" fill="#427cf6"/><circle cx="173.6" cy="240.5" r="1.5" fill="#4874f3"/><circle cx="290.1" cy="218.6" r="1.5" fill="#ab31bd"/><circle cx="272.6" cy="220.7" r="1.5" fill="#e2248a"/><circle cx="220.1" cy="240.0" r="1.5" fill="#923bd1"/><circle cx="198.6" cy="241.6" r="1.5" fill="#645ae8"/><circle cx="202.1" cy="304.7" r="1.5" fill="#8a3fd7"/><circle cx="204.6" cy="301.3" r="1.5" fill="#5666ed"/><circle cx="219.0" cy="301.2" r="1.5" fill="#e82481"/><circle cx="216.6" cy="301.2" r="1.5" fill="#dd2590"/><circle cx="201.3" cy="284.9" r="1.5" fill="#4080f7"/><circle cx="133.2" cy="212.6" r="1.5" fill="#3e82f8"/><circle cx="166.3" cy="220.2" r="1.5" fill="#8e3dd4"/><circle cx="210.4" cy="306.9" r="1.5" fill="#cb29a1"/><circle cx="205.2" cy="261.8" r="1.5" fill="#933bd0"/><circle cx="295.0" cy="218.6" r="1.5" fill="#ed237b"/><circle cx="204.7" cy="264.4" r="1.5" fill="#427cf6"/><circle cx="227.9" cy="280.2" r="1.5" fill="#c62aa6"/><circle cx="139.2" cy="213.8" r="1.5" fill="#9d36c7"/><circle cx="197.0" cy="215.9" r="1.5" fill="#7e47dc"/><circle cx="209.8" cy="278.2" r="1.5" fill="#d3279a"/><circle cx="202.0" cy="309.3" r="1.5" fill="#8145db"/><circle cx="220.6" cy="236.4" r="1.5" fill="#9a38ca"/><circle cx="225.7" cy="302.4" r="1.5" fill="#f8216b"/><circle cx="223.9" cy="217.4" r="1.5" fill="#516aef"/><circle cx="137.3" cy="217.4" r="1.5" fill="#5864ec"/><circle cx="202.2" cy="286.2" r="1.5" fill="#9e36c7"/><circle cx="252.1" cy="215.5" r="1.5" fill="#ee2379"/><circle cx="236.2" cy="238.8" r="1.5" fill="#8d3ed6"/><circle cx="196.7" cy="281.5" r="1.5" fill="#7e48dd"/><circle cx="160.6" cy="220.3" r="1.5" fill="#744ee1"/><circle cx="180.5" cy="220.2" r="1.5" fill="#923bd1"/><circle cx="204.1" cy="284.0" r="1.5" fill="#9938cb"/><circle cx="146.6" cy="212.4" r="1.5" fill="#7c49de"/><circle cx="273.2" cy="215.8" r="1.5" fill="#ec237c"/><circle cx="194.3" cy="240.1" r="1.5" fill="#5b61eb"/><circle cx="257.2" cy="214.3" r="1.5" fill="#9938cb"/><circle cx="225.2" cy="303.8" r="1.5" fill="#f6226e"/><circle cx="197.4" cy="217.0" r="1.5" fill="#9d36c7"/><circle cx="204.7" cy="258.4" r="1.5" fill="#4578f4"/><circle cx="120.4" cy="218.8" r="1.5" fill="#754de1"/><circle cx="231.1" cy="282.9" r="1.5" fill="#c42aa8"/><circle cx="187.5" cy="239.1" r="1.5" fill="#4973f3"/><circle cx="194.0" cy="260.7" r="1.5" fill="#8642d9"/><circle cx="209.2" cy="279.3" r="1.5" fill="#ce289e"/><circle cx="147.4" cy="222.2" r="1.5" fill="#7f47dc"/><circle cx="201.8" cy="282.5" r="1.5" fill="#8f3cd3"/><circle cx="205.5" cy="301.0" r="1.5" fill="#3f81f8"/><circle cx="220.2" cy="302.2" r="1.5" fill="#ea237f"/><circle cx="131.7" cy="215.8" r="1.5" fill="#9839cc"/><circle cx="114.2" cy="218.8" r="1.5" fill="#4a71f2"/><circle cx="235.0" cy="260.4" r="1.5" fill="#fe2062"/><circle cx="234.1" cy="261.7" r="1.5" fill="#f8216c"/><circle cx="226.7" cy="282.9" r="1.5" fill="#c42aa7"/><circle cx="207.2" cy="300.0" r="1.5" fill="#4874f3"/><circle cx="187.2" cy="259.6" r="1.5" fill="#8e3dd4"/><circle cx="200.1" cy="261.7" r="1.5" fill="#4b71f2"/><circle cx="238.9" cy="281.8" r="1.5" fill="#e2248a"/><circle cx="193.3" cy="240.1" r="1.5" fill="#417ef6"/><circle cx="202.8" cy="303.5" r="1.5" fill="#953ace"/><circle cx="195.8" cy="302.1" r="1.5" fill="#9d36c8"/><circle cx="257.1" cy="260.5" r="1.5" fill="#f8216c"/><circle cx="173.6" cy="218.7" r="1.5" fill="#4d6df0"/><circle cx="211.9" cy="278.0" r="1.5" fill="#943acf"/><circle cx="193.3" cy="215.3" r="1.5" fill="#7a4adf"/><circle cx="206.0" cy="262.8" r="1.5" fill="#417ef7"/><circle cx="217.2" cy="284.1" r="1.5" fill="#dc2591"/><circle cx="228.9" cy="282.6" r="1.5" fill="#ee237a"/><circle cx="153.6" cy="212.2" r="1.5" fill="#4973f3"/><circle cx="194.7" cy="279.3" r="1.5" fill="#8642d9"/><circle cx="187.2" cy="215.5" r="1.5" fill="#903cd2"/><circle cx="178.2" cy="237.6" r="1.5" fill="#4080f7"/><circle cx="221.2" cy="305.7" r="1.5" fill="#d42799"/><circle cx="216.2" cy="260.2" r="1.5" fill="#a832bf"/><circle cx="162.7" cy="239.3" r="1.5" fill="#3f81f8"/><circle cx="288.4" cy="219.0" r="1.5" fill="#c12baa"/><circle cx="226.9" cy="282.8" r="1.5" fill="#fe2062"/><circle cx="203.7" cy="279.4" r="1.5" fill="#8046db"/><circle cx="208.5" cy="305.7" r="1.5" fill="#4b71f2"/><circle cx="136.6" cy="215.5" r="1.5" fill="#4973f3"/><circle cx="141.3" cy="218.5" r="1.5" fill="#437bf5"/><circle cx="202.0" cy="219.0" r="1.5" fill="#8741d8"/><circle cx="208.2" cy="260.4" r="1.5" fill="#9938cb"/><circle cx="222.1" cy="241.3" r="1.5" fill="#9a38ca"/><circle cx="134.4" cy="212.1" r="1.5" fill="#4775f3"/><circle cx="232.1" cy="238.0" r="1.5" fill="#f12375"/><circle cx="247.4" cy="260.2" r="1.5" fill="#ae30ba"/><circle cx="123.9" cy="215.5" r="1.5" fill="#4776f4"/><circle cx="160.6" cy="239.2" r="1.5" fill="#407ff7"/><circle cx="223.7" cy="242.7" r="1.5" fill="#903cd2"/><circle cx="240.4" cy="303.2" r="1.5" fill="#f9216a"/><circle cx="215.8" cy="281.4" r="1.5" fill="#de258f"/><circle cx="192.6" cy="258.1" r="1.5" fill="#913cd1"/><circle cx="182.3" cy="236.6" r="1.5" fill="#4080f7"/><circle cx="214.6" cy="305.8" r="1.5" fill="#ed237b"/><circle cx="131.4" cy="211.1" r="1.5" fill="#3e82f8"/><circle cx="215.7" cy="301.0" r="1.5" fill="#cd289f"/><circle cx="207.4" cy="264.4" r="1.5" fill="#437bf6"/><circle cx="235.2" cy="240.6" r="1.5" fill="#ac31bc"/><circle cx="216.6" cy="285.0" r="1.5" fill="#d52798"/><circle cx="210.9" cy="238.1" r="1.5" fill="#794bdf"/><circle cx="224.1" cy="280.4" r="1.5" fill="#ca29a2"/><circle cx="171.7" cy="238.2" r="1.5" fill="#3f80f7"/><circle cx="180.0" cy="240.1" r="1.5" fill="#437bf5"/><circle cx="202.5" cy="302.5" r="1.5" fill="#417ef7"/><circle cx="205.8" cy="257.2" r="1.5" fill="#447af5"/><circle cx="215.5" cy="283.6" r="1.5" fill="#f6226e"/><circle cx="212.8" cy="281.2" r="1.5" fill="#c12bab"/><circle cx="208.3" cy="281.2" r="1.5" fill="#be2bad"/><circle cx="231.4" cy="281.3" r="1.5" fill="#be2bad"/><circle cx="211.8" cy="281.5" r="1.5" fill="#9f36c6"/><circle cx="198.5" cy="220.7" r="1.5" fill="#8741d8"/><circle cx="208.1" cy="277.0" r="1.5" fill="#8443da"/><circle cx="206.4" cy="240.6" r="1.5" fill="#4479f5"/><circle cx="176.6" cy="240.4" r="1.5" fill="#4b6ff1"/><circle cx="155.1" cy="215.8" r="1.5" fill="#8c3ed6"/><circle cx="189.7" cy="241.4" r="1.5" fill="#4677f4"/><circle cx="216.8" cy="237.9" r="1.5" fill="#903cd3"/><circle cx="216.7" cy="284.2" r="1.5" fill="#ed237b"/><circle cx="199.0" cy="240.1" r="1.5" fill="#4578f4"/><circle cx="124.1" cy="220.1" r="1.5" fill="#4578f4"/><circle cx="217.0" cy="280.6" r="1.5" fill="#fc2165"/><circle cx="205.1" cy="217.5" r="1.5" fill="#417ef7"/><circle cx="164.5" cy="238.8" r="1.5" fill="#5b62eb"/><circle cx="186.6" cy="239.3" r="1.5" fill="#4776f4"/><circle cx="193.6" cy="282.5" r="1.5" fill="#9c37c9"/><circle cx="204.1" cy="305.6" r="1.5" fill="#4874f3"/><circle cx="190.2" cy="280.5" r="1.5" fill="#9b37ca"/><circle cx="186.9" cy="260.6" r="1.5" fill="#5764ec"/><circle cx="214.0" cy="300.0" r="1.5" fill="#ef2378"/><circle cx="189.2" cy="260.8" r="1.5" fill="#4874f3"/><circle cx="218.6" cy="237.9" r="1.5" fill="#ab31bc"/><circle cx="213.4" cy="280.0" r="1.5" fill="#ac31bc"/><circle cx="196.0" cy="305.0" r="1.5" fill="#9a38ca"/><circle cx="136.5" cy="223.7" r="1.5" fill="#913cd2"/><circle cx="225.6" cy="303.7" r="1.5" fill="#f92169"/><circle cx="241.2" cy="240.3" r="1.5" fill="#a733c0"/><circle cx="231.3" cy="260.5" r="1.5" fill="#a334c3"/><circle cx="235.1" cy="281.3" r="1.5" fill="#db2592"/><circle cx="190.5" cy="256.8" r="1.5" fill="#4972f2"/><circle cx="224.9" cy="244.2" r="1.5" fill="#8f3dd4"/><circle cx="203.6" cy="260.5" r="1.5" fill="#8940d8"/><circle cx="180.1" cy="239.0" r="1.5" fill="#437af5"/><circle cx="177.4" cy="239.4" r="1.5" fill="#447af5"/><circle cx="215.5" cy="303.3" r="1.5" fill="#cb29a1"/><circle cx="242.4" cy="219.0" r="1.5" fill="#aa32bd"/><circle cx="208.8" cy="282.9" r="1.5" fill="#a234c3"/><circle cx="147.4" cy="214.1" r="1.5" fill="#4d6df0"/><circle cx="263.2" cy="260.2" r="1.5" fill="#df258e"/><circle cx="223.2" cy="243.9" r="1.5" fill="#a733c0"/><circle cx="209.7" cy="282.5" r="1.5" fill="#9b37c9"/><circle cx="253.0" cy="218.8" r="1.5" fill="#d32799"/><circle cx="196.5" cy="262.0" r="1.5" fill="#4874f3"/><circle cx="146.2" cy="215.7" r="1.5" fill="#4e6cf0"/><circle cx="159.2" cy="214.3" r="1.5" fill="#4d6df0"/><circle cx="261.8" cy="219.1" r="1.5" fill="#903cd2"/><circle cx="203.6" cy="276.7" r="1.5" fill="#5467ee"/><circle cx="201.2" cy="255.9" r="1.5" fill="#8c3ed6"/><circle cx="176.5" cy="238.1" r="1.5" fill="#605de9"/><circle cx="244.3" cy="260.2" r="1.5" fill="#e1248b"/><circle cx="202.0" cy="284.9" r="1.5" fill="#784bdf"/><circle cx="248.2" cy="239.0" r="1.5" fill="#e82481"/><circle cx="228.4" cy="236.9" r="1.5" fill="#8f3dd3"/><circle cx="181.0" cy="215.9" r="1.5" fill="#427cf6"/><circle cx="230.8" cy="280.0" r="1.5" fill="#ff2061"/><circle cx="233.6" cy="238.2" r="1.5" fill="#f52271"/><circle cx="264.9" cy="260.6" r="1.5" fill="#fd2063"/><circle cx="262.9" cy="220.4" r="1.5" fill="#963ace"/><circle cx="203.8" cy="263.0" r="1.5" fill="#4578f4"/><circle cx="233.2" cy="303.6" r="1.5" fill="#f22274"/><circle cx="261.9" cy="213.7" r="1.5" fill="#943acf"/><circle cx="182.7" cy="239.3" r="1.5" fill="#4677f4"/><circle cx="201.8" cy="263.1" r="1.5" fill="#4d6ef1"/><circle cx="179.3" cy="240.3" r="1.5" fill="#4579f5"/><circle cx="193.0" cy="262.7" r="1.5" fill="#953acf"/><circle cx="188.0" cy="214.0" r="1.5" fill="#7a4ade"/><circle cx="222.9" cy="282.8" r="1.5" fill="#eb237d"/><circle cx="150.9" cy="214.0" r="1.5" fill="#4874f3"/><circle cx="198.9" cy="285.1" r="1.5" fill="#7a4ade"/><circle cx="215.0" cy="238.2" r="1.5" fill="#9d37c8"/><circle cx="224.3" cy="241.2" r="1.5" fill="#f92169"/><circle cx="198.8" cy="278.9" r="1.5" fill="#943acf"/><circle cx="168.6" cy="220.2" r="1.5" fill="#3e82f8"/><circle cx="203.3" cy="265.4" r="1.5" fill="#7d48dd"/><circle cx="206.8" cy="305.9" r="1.5" fill="#9739cd"/><circle cx="160.5" cy="219.1" r="1.5" fill="#9b37ca"/><circle cx="185.4" cy="237.7" r="1.5" fill="#437bf6"/><circle cx="205.7" cy="280.0" r="1.5" fill="#8b3fd7"/><circle cx="205.8" cy="304.6" r="1.5" fill="#7a4ade"/><circle cx="211.9" cy="302.3" r="1.5" fill="#d92693"/><circle cx="140.4" cy="217.1" r="1.5" fill="#4579f5"/><circle cx="127.8" cy="212.5" r="1.5" fill="#447af5"/><circle cx="235.0" cy="280.3" r="1.5" fill="#df258d"/><circle cx="131.2" cy="216.9" r="1.5" fill="#9938cb"/><circle cx="204.4" cy="282.8" r="1.5" fill="#943acf"/><circle cx="213.2" cy="306.8" r="1.5" fill="#c22baa"/><circle cx="192.5" cy="236.5" r="1.5" fill="#417ef7"/><circle cx="298.2" cy="217.1" r="1.5" fill="#fc2165"/><circle cx="215.7" cy="279.2" r="1.5" fill="#f22274"/><circle cx="176.2" cy="218.9" r="1.5" fill="#4973f3"/><circle cx="230.4" cy="305.0" r="1.5" fill="#f32272"/><circle cx="229.7" cy="235.7" r="1.5" fill="#f02377"/><circle cx="231.5" cy="283.9" r="1.5" fill="#f7226e"/><circle cx="189.1" cy="261.4" r="1.5" fill="#903cd2"/><circle cx="224.5" cy="302.2" r="1.5" fill="#eb237e"/><circle cx="229.4" cy="304.7" r="1.5" fill="#eb237d"/><circle cx="154.0" cy="218.9" r="1.5" fill="#5963ec"/><circle cx="197.1" cy="220.2" r="1.5" fill="#5467ee"/><circle cx="194.0" cy="241.7" r="1.5" fill="#417ef7"/><circle cx="201.4" cy="277.7" r="1.5" fill="#8145db"/><circle cx="125.9" cy="219.0" r="1.5" fill="#447af5"/><circle cx="200.4" cy="213.7" r="1.5" fill="#4e6cf0"/><circle cx="201.5" cy="220.7" r="1.5" fill="#4c6ff1"/><circle cx="230.3" cy="260.3" r="1.5" fill="#9938cb"/><circle cx="145.2" cy="221.7" r="1.5" fill="#4678f4"/><circle cx="232.8" cy="281.8" r="1.5" fill="#c62aa6"/><circle cx="223.4" cy="279.2" r="1.5" fill="#c72aa5"/><circle cx="197.9" cy="307.1" r="1.5" fill="#7f47dc"/><circle cx="211.7" cy="260.2" r="1.5" fill="#a334c3"/><circle cx="209.5" cy="299.6" r="1.5" fill="#5467ee"/><circle cx="182.1" cy="237.8" r="1.5" fill="#3f81f8"/><circle cx="197.6" cy="262.8" r="1.5" fill="#8e3dd4"/><circle cx="237.0" cy="281.7" r="1.5" fill="#ed237a"/><circle cx="210.5" cy="217.4" r="1.5" fill="#5467ee"/><circle cx="298.3" cy="216.9" r="1.5" fill="#b82db2"/><circle cx="228.2" cy="237.9" r="1.5" fill="#f6226e"/><circle cx="217.1" cy="304.6" r="1.5" fill="#ea237f"/><circle cx="192.9" cy="240.6" r="1.5" fill="#417df6"/><circle cx="194.5" cy="238.2" r="1.5" fill="#427cf6"/><circle cx="200.5" cy="302.0" r="1.5" fill="#963ace"/><circle cx="248.1" cy="217.5" r="1.5" fill="#9f35c6"/><circle cx="205.2" cy="264.3" r="1.5" fill="#7150e3"/><circle cx="199.0" cy="262.9" r="1.5" fill="#4479f5"/><circle cx="232.3" cy="280.1" r="1.5" fill="#f92169"/><circle cx="142.5" cy="215.4" r="1.5" fill="#4973f3"/><circle cx="200.1" cy="279.1" r="1.5" fill="#4e6cf0"/><circle cx="268.6" cy="260.7" r="1.5" fill="#e42486"/><circle cx="211.8" cy="304.5" r="1.5" fill="#cb29a1"/><circle cx="209.2" cy="303.6" r="1.5" fill="#4c6ef1"/><circle cx="229.8" cy="282.8" r="1.5" fill="#af30b9"/><circle cx="194.9" cy="281.7" r="1.5" fill="#9e36c7"/><circle cx="227.0" cy="302.0" r="1.5" fill="#fb2166"/><circle cx="234.5" cy="283.0" r="1.5" fill="#e82482"/><circle cx="233.1" cy="283.9" r="1.5" fill="#d62797"/><circle cx="185.0" cy="213.7" r="1.5" fill="#7f47dc"/><circle cx="226.7" cy="303.7" r="1.5" fill="#ee2379"/><circle cx="217.8" cy="215.8" r="1.5" fill="#8d3ed5"/><circle cx="192.2" cy="236.5" r="1.5" fill="#4579f5"/><circle cx="243.6" cy="240.4" r="1.5" fill="#bb2cb0"/><circle cx="205.5" cy="283.8" r="1.5" fill="#7d48dd"/><circle cx="212.8" cy="300.9" r="1.5" fill="#d32799"/><circle cx="200.3" cy="307.0" r="1.5" fill="#903cd3"/><circle cx="264.5" cy="218.8" r="1.5" fill="#b030b9"/><circle cx="211.7" cy="215.8" r="1.5" fill="#5269ee"/><circle cx="302.6" cy="219.1" r="1.5" fill="#b030b9"/><circle cx="216.2" cy="304.5" r="1.5" fill="#d0289d"/><circle cx="255.6" cy="217.1" r="1.5" fill="#e62484"/><circle cx="193.5" cy="217.2" r="1.5" fill="#9839cc"/><circle cx="258.7" cy="217.4" r="1.5" fill="#953ace"/><circle cx="191.1" cy="213.8" r="1.5" fill="#7e47dd"/><circle cx="200.0" cy="281.3" r="1.5" fill="#506bef"/><circle cx="206.1" cy="308.1" r="1.5" fill="#9639cd"/><circle cx="232.5" cy="238.8" r="1.5" fill="#ac31bc"/><circle cx="188.9" cy="261.4" r="1.5" fill="#8a40d7"/><circle cx="228.0" cy="281.7" r="1.5" fill="#d2279a"/><circle cx="205.3" cy="280.5" r="1.5" fill="#943acf"/><circle cx="227.3" cy="240.4" r="1.5" fill="#a733c0"/><circle cx="216.6" cy="219.1" r="1.5" fill="#8642d9"/><circle cx="238.4" cy="240.2" r="1.5" fill="#9b37c9"/><circle cx="197.4" cy="284.2" r="1.5" fill="#794bdf"/><circle cx="210.0" cy="279.4" r="1.5" fill="#b82db3"/><circle cx="195.4" cy="259.3" r="1.5" fill="#4e6cf0"/><circle cx="212.2" cy="284.1" r="1.5" fill="#9739cc"/><circle cx="159.8" cy="215.5" r="1.5" fill="#437bf5"/><circle cx="250.3" cy="239.4" r="1.5" fill="#a733bf"/><circle cx="277.2" cy="217.4" r="1.5" fill="#9739cd"/><circle cx="215.7" cy="302.6" r="1.5" fill="#d2279a"/><circle cx="234.9" cy="215.8" r="1.5" fill="#9c37c9"/><circle cx="227.6" cy="260.6" r="1.5" fill="#7d48dd"/><circle cx="196.6" cy="280.5" r="1.5" fill="#9739cd"/><circle cx="211.5" cy="279.3" r="1.5" fill="#d82695"/><circle cx="213.4" cy="307.4" r="1.5" fill="#d32799"/><circle cx="177.3" cy="214.1" r="1.5" fill="#4776f4"/><circle cx="265.3" cy="215.3" r="1.5" fill="#fe2062"/><circle cx="242.6" cy="215.4" r="1.5" fill="#b030b9"/><circle cx="143.7" cy="220.2" r="1.5" fill="#4875f3"/><circle cx="124.0" cy="218.6" r="1.5" fill="#7c49dd"/><circle cx="237.5" cy="281.3" r="1.5" fill="#f92169"/><circle cx="286.6" cy="220.2" r="1.5" fill="#eb237d"/><circle cx="224.3" cy="304.9" r="1.5" fill="#f8216c"/><circle cx="199.9" cy="301.4" r="1.5" fill="#4776f4"/><circle cx="173.6" cy="220.2" r="1.5" fill="#754de1"/><circle cx="229.2" cy="303.4" r="1.5" fill="#fc2165"/><circle cx="187.1" cy="237.8" r="1.5" fill="#427cf6"/><circle cx="220.2" cy="303.7" r="1.5" fill="#df258e"/><circle cx="237.6" cy="217.3" r="1.5" fill="#ae30ba"/><circle cx="184.2" cy="215.5" r="1.5" fill="#3e82f8"/><circle cx="206.4" cy="301.2" r="1.5" fill="#4f6bf0"/><circle cx="228.2" cy="302.2" r="1.5" fill="#f5226f"/><circle cx="202.1" cy="302.3" r="1.5" fill="#7d48dd"/><circle cx="200.1" cy="282.9" r="1.5" fill="#4677f4"/><circle cx="156.9" cy="219.1" r="1.5" fill="#3f81f7"/><circle cx="237.7" cy="239.4" r="1.5" fill="#e42486"/><circle cx="231.2" cy="237.7" r="1.5" fill="#8c3ed6"/><circle cx="207.7" cy="280.5" r="1.5" fill="#bb2cb0"/><circle cx="207.7" cy="217.2" r="1.5" fill="#754ee1"/><circle cx="218.9" cy="303.6" r="1.5" fill="#af30b9"/><circle cx="180.6" cy="238.2" r="1.5" fill="#427df6"/><circle cx="224.6" cy="282.5" r="1.5" fill="#db2592"/><circle cx="188.8" cy="220.1" r="1.5" fill="#7f47dc"/><circle cx="234.4" cy="282.9" r="1.5" fill="#fb2167"/><circle cx="130.2" cy="217.1" r="1.5" fill="#8245db"/><circle cx="185.2" cy="240.3" r="1.5" fill="#447af5"/><circle cx="186.4" cy="217.1" r="1.5" fill="#8344da"/><circle cx="221.7" cy="240.5" r="1.5" fill="#f8216a"/><circle cx="204.2" cy="239.3" r="1.5" fill="#9739cd"/><circle cx="228.2" cy="239.3" r="1.5" fill="#8642d9"/><circle cx="159.9" cy="238.8" r="1.5" fill="#3f81f8"/><circle cx="190.1" cy="257.8" r="1.5" fill="#8d3dd5"/><circle cx="188.9" cy="240.0" r="1.5" fill="#437af5"/><circle cx="207.8" cy="260.3" r="1.5" fill="#9b37c9"/><circle cx="228.5" cy="244.1" r="1.5" fill="#9b37ca"/><circle cx="225.3" cy="245.4" r="1.5" fill="#7d48dd"/><circle cx="283.4" cy="220.2" r="1.5" fill="#9639cd"/><circle cx="238.3" cy="240.5" r="1.5" fill="#b32fb7"/><circle cx="201.9" cy="237.6" r="1.5" fill="#8344da"/><circle cx="195.5" cy="282.6" r="1.5" fill="#9e36c7"/><circle cx="123.5" cy="212.3" r="1.5" fill="#407ff7"/><circle cx="214.5" cy="240.2" r="1.5" fill="#417df6"/><circle cx="116.6" cy="215.5" r="1.5" fill="#9639cd"/><circle cx="140.7" cy="218.8" r="1.5" fill="#5368ee"/><circle cx="276.8" cy="218.5" r="1.5" fill="#fa2167"/><circle cx="240.5" cy="239.0" r="1.5" fill="#f9216a"/><circle cx="267.1" cy="218.9" r="1.5" fill="#fe2061"/><circle cx="190.7" cy="261.7" r="1.5" fill="#5368ee"/><circle cx="195.3" cy="280.3" r="1.5" fill="#7d48dd"/><circle cx="208.4" cy="237.8" r="1.5" fill="#7a4ade"/><circle cx="225.1" cy="284.1" r="1.5" fill="#df258d"/><circle cx="202.2" cy="278.1" r="1.5" fill="#7d48dd"/><circle cx="232.8" cy="302.2" r="1.5" fill="#fb2166"/><circle cx="183.4" cy="220.1" r="1.5" fill="#933bd0"/><circle cx="205.2" cy="262.8" r="1.5" fill="#4874f3"/><circle cx="189.7" cy="215.8" r="1.5" fill="#923bd1"/><circle cx="243.7" cy="240.5" r="1.5" fill="#9b37c9"/><circle cx="213.2" cy="240.2" r="1.5" fill="#4a72f2"/><circle cx="201.1" cy="276.5" r="1.5" fill="#7c49de"/><circle cx="188.8" cy="281.2" r="1.5" fill="#9938cb"/><circle cx="245.8" cy="215.5" r="1.5" fill="#9839cc"/><circle cx="195.9" cy="278.8" r="1.5" fill="#9f36c6"/><circle cx="230.2" cy="303.4" r="1.5" fill="#f5226f"/><circle cx="221.0" cy="260.7" r="1.5" fill="#a832bf"/><circle cx="304.1" cy="216.9" r="1.5" fill="#ff2061"/><circle cx="239.5" cy="239.4" r="1.5" fill="#a633c0"/><circle cx="204.7" cy="283.7" r="1.5" fill="#9e36c6"/><circle cx="117.4" cy="217.3" r="1.5" fill="#8145db"/><circle cx="211.7" cy="282.5" r="1.5" fill="#9d36c8"/><circle cx="234.4" cy="302.4" r="1.5" fill="#e72483"/><circle cx="224.6" cy="243.9" r="1.5" fill="#7e47dc"/><circle cx="194.0" cy="218.8" r="1.5" fill="#4775f3"/><circle cx="281.2" cy="217.4" r="1.5" fill="#f8216c"/><circle cx="259.3" cy="220.5" r="1.5" fill="#ad31bb"/><circle cx="204.3" cy="240.2" r="1.5" fill="#4678f4"/><circle cx="214.5" cy="301.1" r="1.5" fill="#dc2591"/><circle cx="226.2" cy="244.0" r="1.5" fill="#e1258b"/><circle cx="196.3" cy="218.6" r="1.5" fill="#9d36c8"/><circle cx="205.3" cy="260.4" r="1.5" fill="#794adf"/><circle cx="218.9" cy="216.9" r="1.5" fill="#4b70f1"/><circle cx="231.7" cy="236.9" r="1.5" fill="#f5226f"/><circle cx="270.4" cy="220.4" r="1.5" fill="#bf2bac"/><circle cx="213.5" cy="303.5" r="1.5" fill="#df258d"/><circle cx="200.7" cy="286.4" r="1.5" fill="#427cf6"/><circle cx="136.0" cy="218.8" r="1.5" fill="#4972f2"/><circle cx="207.7" cy="240.1" r="1.5" fill="#3f80f7"/><circle cx="285.4" cy="220.7" r="1.5" fill="#fa2168"/><circle cx="229.6" cy="235.5" r="1.5" fill="#8d3dd5"/><circle cx="208.5" cy="284.0" r="1.5" fill="#8642d9"/><circle cx="222.6" cy="239.4" r="1.5" fill="#f02377"/><circle cx="203.9" cy="308.4" r="1.5" fill="#8841d8"/><circle cx="221.3" cy="283.9" r="1.5" fill="#cd289f"/><circle cx="208.2" cy="279.4" r="1.5" fill="#ba2cb1"/><circle cx="185.2" cy="260.4" r="1.5" fill="#8741d8"/><circle cx="197.1" cy="302.5" r="1.5" fill="#953acf"/><circle cx="227.8" cy="283.7" r="1.5" fill="#dd2590"/><circle cx="164.7" cy="215.9" r="1.5" fill="#933bd0"/><circle cx="174.4" cy="215.9" r="1.5" fill="#8344da"/><circle cx="177.7" cy="240.2" r="1.5" fill="#427cf6"/><circle cx="212.7" cy="282.4" r="1.5" fill="#ac31bc"/><circle cx="213.3" cy="218.8" r="1.5" fill="#506bef"/><circle cx="195.1" cy="220.4" r="1.5" fill="#774ce0"/><circle cx="196.5" cy="284.0" r="1.5" fill="#923cd1"/><circle cx="210.7" cy="299.9" r="1.5" fill="#d62697"/><circle cx="230.8" cy="217.5" r="1.5" fill="#b12fb7"/><circle cx="190.1" cy="263.2" r="1.5" fill="#4a71f2"/><circle cx="226.0" cy="235.6" r="1.5" fill="#fe2061"/><circle cx="287.3" cy="220.7" r="1.5" fill="#d1279b"/><circle cx="227.6" cy="304.4" r="1.5" fill="#fe2062"/><circle cx="126.1" cy="214.0" r="1.5" fill="#5765ed"/><circle cx="219.6" cy="300.2" r="1.5" fill="#d2279a"/><circle cx="184.5" cy="240.4" r="1.5" fill="#447af5"/><circle cx="205.1" cy="254.8" r="1.5" fill="#4d6df0"/><circle cx="130.5" cy="210.6" r="1.5" fill="#437cf6"/><circle cx="151.2" cy="215.9" r="1.5" fill="#8e3dd4"/><circle cx="189.3" cy="212.1" r="1.5" fill="#9c37c8"/><circle cx="300.5" cy="217.0" r="1.5" fill="#ee2379"/><circle cx="229.5" cy="242.7" r="1.5" fill="#7e48dd"/><circle cx="221.2" cy="284.2" r="1.5" fill="#fa2168"/><circle cx="189.9" cy="303.6" r="1.5" fill="#7b49de"/><circle cx="222.3" cy="280.1" r="1.5" fill="#cd289f"/><circle cx="207.0" cy="282.8" r="1.5" fill="#a434c2"/><circle cx="208.1" cy="286.3" r="1.5" fill="#8f3cd3"/><circle cx="245.2" cy="218.6" r="1.5" fill="#d92694"/><circle cx="199.9" cy="305.7" r="1.5" fill="#754ee1"/><circle cx="195.3" cy="239.4" r="1.5" fill="#417ef7"/><circle cx="159.9" cy="222.0" r="1.5" fill="#417df6"/><circle cx="279.1" cy="215.6" r="1.5" fill="#b92db1"/><circle cx="220.3" cy="280.3" r="1.5" fill="#eb237d"/><circle cx="238.0" cy="237.8" r="1.5" fill="#8f3dd4"/><circle cx="197.7" cy="301.0" r="1.5" fill="#9c37c8"/><circle cx="231.3" cy="236.5" r="1.5" fill="#ad31bb"/><circle cx="204.9" cy="302.3" r="1.5" fill="#794adf"/><circle cx="136.7" cy="214.3" r="1.5" fill="#9c37c9"/><circle cx="191.6" cy="262.7" r="1.5" fill="#9b37c9"/><circle cx="213.8" cy="304.8" r="1.5" fill="#e62483"/><circle cx="209.2" cy="304.6" r="1.5" fill="#913cd2"/><circle cx="196.5" cy="240.4" r="1.5" fill="#5467ee"/><circle cx="290.1" cy="222.3" r="1.5" fill="#f8216b"/><circle cx="198.4" cy="237.8" r="1.5" fill="#4578f4"/><circle cx="167.3" cy="238.8" r="1.5" fill="#447af5"/><circle cx="209.1" cy="284.9" r="1.5" fill="#9d37c8"/><circle cx="234.9" cy="303.4" r="1.5" fill="#f7226d"/><circle cx="188.8" cy="237.0" r="1.5" fill="#4776f4"/><circle cx="197.2" cy="213.9" r="1.5" fill="#784ce0"/><circle cx="188.4" cy="215.7" r="1.5" fill="#794bdf"/><circle cx="137.3" cy="210.6" r="1.5" fill="#9938cb"/><circle cx="202.6" cy="258.1" r="1.5" fill="#903cd3"/><circle cx="243.0" cy="213.8" r="1.5" fill="#9839cc"/><circle cx="263.5" cy="221.7" r="1.5" fill="#b92db2"/><circle cx="132.3" cy="218.8" r="1.5" fill="#8741d8"/><circle cx="164.0" cy="217.1" r="1.5" fill="#754ee1"/><circle cx="205.4" cy="256.9" r="1.5" fill="#4d6ef1"/><circle cx="215.8" cy="308.1" r="1.5" fill="#ec237b"/><circle cx="190.2" cy="282.9" r="1.5" fill="#8443da"/><circle cx="236.4" cy="282.4" r="1.5" fill="#bf2bac"/><circle cx="201.1" cy="280.0" r="1.5" fill="#8f3dd4"/><circle cx="209.4" cy="239.0" r="1.5" fill="#407ff7"/><circle cx="188.7" cy="241.4" r="1.5" fill="#4080f7"/><circle cx="224.4" cy="280.6" r="1.5" fill="#d72695"/><circle cx="229.8" cy="302.0" r="1.5" fill="#e92481"/><circle cx="189.8" cy="281.2" r="1.5" fill="#4676f4"/><circle cx="202.9" cy="300.2" r="1.5" fill="#794bdf"/><circle cx="251.6" cy="220.3" r="1.5" fill="#dd2590"/><circle cx="207.9" cy="278.9" r="1.5" fill="#d1279b"/><circle cx="203.8" cy="218.9" r="1.5" fill="#437bf6"/><circle cx="228.7" cy="282.5" r="1.5" fill="#f32273"/><circle cx="215.1" cy="304.7" r="1.5" fill="#eb237d"/><circle cx="200.1" cy="238.0" r="1.5" fill="#4579f5"/><circle cx="190.7" cy="240.1" r="1.5" fill="#3f81f7"/><circle cx="221.8" cy="239.4" r="1.5" fill="#8444da"/><circle cx="225.2" cy="242.7" r="1.5" fill="#fb2166"/><circle cx="197.8" cy="215.3" r="1.5" fill="#8543d9"/><circle cx="170.2" cy="215.9" r="1.5" fill="#a035c5"/><circle cx="226.0" cy="238.1" r="1.5" fill="#8e3dd4"/><circle cx="212.5" cy="304.9" r="1.5" fill="#e42487"/><circle cx="214.1" cy="239.3" r="1.5" fill="#4f6bef"/><circle cx="265.7" cy="220.1" r="1.5" fill="#fc2164"/><circle cx="242.3" cy="260.4" r="1.5" fill="#a932be"/><circle cx="193.6" cy="280.4" r="1.5" fill="#764de0"/><circle cx="220.2" cy="302.2" r="1.5" fill="#a533c1"/><circle cx="170.2" cy="240.0" r="1.5" fill="#3e82f8"/><circle cx="194.0" cy="259.2" r="1.5" fill="#9f35c6"/><circle cx="217.2" cy="238.2" r="1.5" fill="#943acf"/><circle cx="213.5" cy="302.0" r="1.5" fill="#c02bab"/><circle cx="192.3" cy="241.4" r="1.5" fill="#4874f3"/><circle cx="215.7" cy="302.5" r="1.5" fill="#e42487"/><circle cx="134.7" cy="222.2" r="1.5" fill="#4c6ef1"/><circle cx="192.4" cy="217.1" r="1.5" fill="#933bd0"/><circle cx="149.2" cy="217.0" r="1.5" fill="#953ace"/><circle cx="284.8" cy="216.9" r="1.5" fill="#fc2165"/><circle cx="272.8" cy="218.7" r="1.5" fill="#e72482"/><circle cx="219.0" cy="285.1" r="1.5" fill="#ff2060"/><circle cx="226.7" cy="240.6" r="1.5" fill="#f52270"/><circle cx="174.5" cy="237.7" r="1.5" fill="#427df6"/><circle cx="235.8" cy="237.9" r="1.5" fill="#923bd1"/><circle cx="230.2" cy="241.5" r="1.5" fill="#a334c3"/><circle cx="215.0" cy="239.1" r="1.5" fill="#7d48dd"/><circle cx="274.5" cy="213.7" r="1.5" fill="#9e36c7"/><circle cx="211.6" cy="284.2" r="1.5" fill="#e22489"/><circle cx="181.5" cy="214.3" r="1.5" fill="#4f6bf0"/><circle cx="234.6" cy="302.5" r="1.5" fill="#e82482"/><circle cx="248.6" cy="218.8" r="1.5" fill="#f22274"/><circle cx="189.1" cy="218.7" r="1.5" fill="#8046dc"/><circle cx="226.3" cy="242.5" r="1.5" fill="#7e47dc"/><circle cx="203.7" cy="280.0" r="1.5" fill="#8a3fd7"/><circle cx="144.2" cy="216.9" r="1.5" fill="#4578f4"/><circle cx="191.0" cy="258.0" r="1.5" fill="#3f80f7"/><circle cx="235.7" cy="239.1" r="1.5" fill="#a035c5"/><circle cx="204.8" cy="257.8" r="1.5" fill="#437cf6"/><circle cx="213.2" cy="280.0" r="1.5" fill="#c829a3"/><circle cx="213.9" cy="279.0" r="1.5" fill="#d2279a"/><circle cx="191.6" cy="260.5" r="1.5" fill="#4578f4"/><circle cx="198.8" cy="277.6" r="1.5" fill="#8046dc"/><circle cx="195.9" cy="279.2" r="1.5" fill="#5765ed"/><circle cx="122.7" cy="217.4" r="1.5" fill="#5467ee"/><circle cx="194.5" cy="263.1" r="1.5" fill="#7a4ade"/><circle cx="202.7" cy="284.0" r="1.5" fill="#8742d9"/><circle cx="212.5" cy="278.8" r="1.5" fill="#b72db3"/><circle cx="252.7" cy="260.8" r="1.5" fill="#df258e"/><circle cx="206.2" cy="265.6" r="1.5" fill="#447af5"/><circle cx="206.6" cy="283.7" r="1.5" fill="#d92694"/><circle cx="275.4" cy="215.3" r="1.5" fill="#e42486"/><circle cx="207.9" cy="303.6" r="1.5" fill="#943acf"/><circle cx="205.8" cy="267.6" r="1.5" fill="#4776f4"/><circle cx="199.7" cy="238.9" r="1.5" fill="#4d6df0"/><circle cx="226.6" cy="260.6" r="1.5" fill="#903cd2"/><circle cx="220.7" cy="215.3" r="1.5" fill="#3f81f8"/><circle cx="200.3" cy="303.8" r="1.5" fill="#953acf"/><circle cx="211.6" cy="299.9" r="1.5" fill="#c22ba9"/><circle cx="246.2" cy="239.0" r="1.5" fill="#e72483"/><circle cx="291.6" cy="214.1" r="1.5" fill="#f92169"/><circle cx="121.2" cy="215.4" r="1.5" fill="#9a38ca"/><circle cx="250.5" cy="260.2" r="1.5" fill="#ec237c"/><circle cx="189.3" cy="239.2" r="1.5" fill="#407ff7"/><circle cx="228.1" cy="238.8" r="1.5" fill="#f9216a"/><circle cx="204.0" cy="215.7" r="1.5" fill="#407ff7"/><circle cx="167.7" cy="213.9" r="1.5" fill="#8840d8"/><circle cx="157.2" cy="220.5" r="1.5" fill="#8245db"/><circle cx="225.2" cy="237.9" r="1.5" fill="#8c3ed6"/><circle cx="224.9" cy="239.0" r="1.5" fill="#ed237a"/><circle cx="181.3" cy="241.7" r="1.5" fill="#4579f5"/><circle cx="220.3" cy="237.8" r="1.5" fill="#9938cb"/><circle cx="201.3" cy="260.3" r="1.5" fill="#4775f3"/><circle cx="193.8" cy="282.5" r="1.5" fill="#754de1"/><circle cx="219.4" cy="301.2" r="1.5" fill="#aa32bd"/><circle cx="194.8" cy="283.6" r="1.5" fill="#5567ed"/><circle cx="233.1" cy="278.8" r="1.5" fill="#f52270"/><circle cx="178.7" cy="239.2" r="1.5" fill="#4776f4"/><circle cx="207.2" cy="266.4" r="1.5" fill="#4a71f2"/><circle cx="171.3" cy="237.6" r="1.5" fill="#407ff7"/><circle cx="254.9" cy="220.3" r="1.5" fill="#b030b8"/><circle cx="237.1" cy="216.9" r="1.5" fill="#923bd1"/><circle cx="222.4" cy="283.6" r="1.5" fill="#fe2062"/><circle cx="193.0" cy="239.4" r="1.5" fill="#4479f5"/><circle cx="292.6" cy="217.5" r="1.5" fill="#ea237f"/><circle cx="219.2" cy="278.1" r="1.5" fill="#da2693"/><circle cx="162.0" cy="218.7" r="1.5" fill="#933bd0"/><circle cx="230.3" cy="240.0" r="1.5" fill="#f12375"/><circle cx="285.8" cy="214.0" r="1.5" fill="#e82482"/><circle cx="208.3" cy="303.3" r="1.5" fill="#7e47dd"/><circle cx="138.6" cy="220.1" r="1.5" fill="#437bf5"/><circle cx="191.5" cy="264.4" r="1.5" fill="#7e48dd"/><circle cx="189.9" cy="260.2" r="1.5" fill="#9839cc"/><circle cx="227.2" cy="235.8" r="1.5" fill="#953ace"/><circle cx="205.3" cy="237.9" r="1.5" fill="#4973f3"/><circle cx="152.5" cy="217.5" r="1.5" fill="#4973f2"/><circle cx="188.2" cy="303.5" r="1.5" fill="#9e36c7"/><circle cx="228.1" cy="303.5" r="1.5" fill="#f22274"/><circle cx="264.3" cy="214.0" r="1.5" fill="#ba2cb1"/><circle cx="205.6" cy="302.1" r="1.5" fill="#933bd0"/><circle cx="216.9" cy="303.8" r="1.5" fill="#e92481"/><circle cx="209.8" cy="260.5" r="1.5" fill="#8145db"/><circle cx="212.4" cy="301.2" r="1.5" fill="#b22fb7"/><circle cx="260.0" cy="260.2" r="1.5" fill="#f52270"/><circle cx="204.2" cy="285.4" r="1.5" fill="#9c37c8"/><circle cx="114.7" cy="217.2" r="1.5" fill="#8841d8"/><circle cx="178.9" cy="215.4" r="1.5" fill="#a035c5"/><circle cx="304.4" cy="215.3" r="1.5" fill="#e9237f"/><circle cx="192.1" cy="237.9" r="1.5" fill="#427df6"/><circle cx="161.7" cy="214.1" r="1.5" fill="#4c6ff1"/><circle cx="232.1" cy="282.4" r="1.5" fill="#d72696"/><circle cx="198.2" cy="258.1" r="1.5" fill="#7a4ade"/><circle cx="242.4" cy="237.7" r="1.5" fill="#f02377"/><circle cx="188.5" cy="240.2" r="1.5" fill="#4676f4"/><circle cx="224.4" cy="302.6" r="1.5" fill="#fd2064"/><circle cx="146.6" cy="218.7" r="1.5" fill="#8940d7"/><circle cx="285.9" cy="215.6" r="1.5" fill="#fb2167"/><circle cx="209.0" cy="301.4" r="1.5" fill="#417ef7"/><circle cx="227.1" cy="280.6" r="1.5" fill="#f12376"/><circle cx="207.3" cy="217.3" r="1.5" fill="#8741d8"/><circle cx="298.1" cy="219.1" r="1.5" fill="#e72483"/><circle cx="201.2" cy="300.9" r="1.5" fill="#4776f3"/><circle cx="169.8" cy="239.4" r="1.5" fill="#4775f3"/><circle cx="210.8" cy="239.4" r="1.5" fill="#744ee1"/><circle cx="135.5" cy="217.5" r="1.5" fill="#9739cc"/><circle cx="172.0" cy="240.3" r="1.5" fill="#3f80f7"/><circle cx="150.7" cy="220.3" r="1.5" fill="#943acf"/><circle cx="193.7" cy="303.3" r="1.5" fill="#7a4ade"/><circle cx="143.0" cy="220.4" r="1.5" fill="#516aef"/><circle cx="196.8" cy="279.2" r="1.5" fill="#4776f4"/><circle cx="225.6" cy="240.0" r="1.5" fill="#ff2060"/><circle cx="281.0" cy="217.2" r="1.5" fill="#ca29a2"/><circle cx="243.9" cy="213.8" r="1.5" fill="#9f36c6"/><circle cx="217.4" cy="303.7" r="1.5" fill="#d3279a"/><circle cx="203.7" cy="255.4" r="1.5" fill="#8046db"/><circle cx="226.3" cy="234.2" r="1.5" fill="#f22274"/><circle cx="254.8" cy="260.8" r="1.5" fill="#ad31bb"/><circle cx="239.7" cy="260.7" r="1.5" fill="#cb29a0"/><circle cx="200.3" cy="306.2" r="1.5" fill="#4c6ff1"/><circle cx="233.3" cy="215.3" r="1.5" fill="#9b37c9"/><circle cx="170.6" cy="238.8" r="1.5" fill="#447af5"/><circle cx="256.4" cy="217.2" r="1.5" fill="#f32273"/><circle cx="162.2" cy="238.8" r="1.5" fill="#407ff7"/><circle cx="187.8" cy="217.2" r="1.5" fill="#3e82f8"/><circle cx="150.3" cy="213.8" r="1.5" fill="#3f80f7"/><circle cx="192.9" cy="262.6" r="1.5" fill="#5368ee"/><circle cx="239.7" cy="220.5" r="1.5" fill="#943bcf"/><circle cx="234.0" cy="304.7" r="1.5" fill="#ee2379"/><circle cx="206.4" cy="299.8" r="1.5" fill="#4479f5"/><circle cx="232.4" cy="304.4" r="1.5" fill="#fc2165"/><circle cx="134.7" cy="220.6" r="1.5" fill="#9e36c7"/><circle cx="282.0" cy="215.8" r="1.5" fill="#fe2061"/><circle cx="218.1" cy="282.7" r="1.5" fill="#fd2063"/><circle cx="151.7" cy="220.3" r="1.5" fill="#4578f4"/><circle cx="228.6" cy="260.3" r="1.5" fill="#8444da"/><circle cx="242.2" cy="239.1" r="1.5" fill="#b62eb4"/><circle cx="270.2" cy="214.1" r="1.5" fill="#f7226c"/><circle cx="213.7" cy="303.3" r="1.5" fill="#b62eb4"/><circle cx="173.7" cy="239.0" r="1.5" fill="#447af5"/><circle cx="202.0" cy="257.1" r="1.5" fill="#4874f3"/><circle cx="205.8" cy="306.2" r="1.5" fill="#8543d9"/><circle cx="183.7" cy="260.4" r="1.5" fill="#4d6df0"/><circle cx="249.6" cy="260.2" r="1.5" fill="#fb2166"/><circle cx="183.7" cy="240.2" r="1.5" fill="#4677f4"/><circle cx="287.7" cy="214.0" r="1.5" fill="#f02377"/><circle cx="233.8" cy="240.2" r="1.5" fill="#8543d9"/><circle cx="203.0" cy="257.0" r="1.5" fill="#8d3ed6"/><circle cx="221.4" cy="302.5" r="1.5" fill="#b42eb5"/><circle cx="197.7" cy="217.5" r="1.5" fill="#5368ee"/><circle cx="208.2" cy="302.2" r="1.5" fill="#9b37ca"/><circle cx="198.9" cy="305.8" r="1.5" fill="#4b70f2"/><circle cx="223.5" cy="283.6" r="1.5" fill="#bc2caf"/><circle cx="194.6" cy="283.9" r="1.5" fill="#9938cb"/><circle cx="187.1" cy="236.6" r="1.5" fill="#427df6"/><circle cx="201.2" cy="213.7" r="1.5" fill="#4678f4"/><circle cx="167.9" cy="214.2" r="1.5" fill="#437cf6"/><circle cx="204.7" cy="256.6" r="1.5" fill="#4973f3"/><circle cx="172.6" cy="214.3" r="1.5" fill="#4e6cf0"/><circle cx="118.9" cy="215.7" r="1.5" fill="#8543d9"/><circle cx="159.6" cy="217.5" r="1.5" fill="#933bd0"/><circle cx="294.4" cy="220.6" r="1.5" fill="#a832bf"/><circle cx="253.8" cy="213.7" r="1.5" fill="#a035c5"/><circle cx="268.4" cy="215.7" r="1.5" fill="#cd289f"/><circle cx="204.0" cy="255.8" r="1.5" fill="#4c6ef1"/><circle cx="241.3" cy="238.0" r="1.5" fill="#a135c4"/><circle cx="175.1" cy="215.4" r="1.5" fill="#9d36c7"/><circle cx="187.0" cy="220.3" r="1.5" fill="#9a38ca"/><circle cx="266.2" cy="260.7" r="1.5" fill="#a135c4"/><circle cx="252.1" cy="214.0" r="1.5" fill="#f32273"/><circle cx="219.8" cy="303.6" r="1.5" fill="#e32488"/><circle cx="209.9" cy="238.8" r="1.5" fill="#4080f7"/><circle cx="178.5" cy="218.7" r="1.5" fill="#913cd2"/><circle cx="201.3" cy="299.8" r="1.5" fill="#8940d7"/><circle cx="226.7" cy="283.7" r="1.5" fill="#f22274"/><circle cx="118.6" cy="217.4" r="1.5" fill="#4c6ef1"/><circle cx="223.9" cy="238.1" r="1.5" fill="#a733c0"/><circle cx="291.0" cy="217.1" r="1.5" fill="#fb2167"/><circle cx="222.3" cy="281.5" r="1.5" fill="#af30b9"/><circle cx="128.3" cy="220.1" r="1.5" fill="#4678f4"/><circle cx="184.9" cy="239.3" r="1.5" fill="#417df6"/><circle cx="244.1" cy="220.6" r="1.5" fill="#b42eb5"/><circle cx="194.1" cy="261.4" r="1.5" fill="#407ff7"/><circle cx="206.7" cy="307.3" r="1.5" fill="#8d3dd5"/><circle cx="271.7" cy="214.1" r="1.5" fill="#b030b9"/><circle cx="189.5" cy="236.9" r="1.5" fill="#417ef6"/><circle cx="203.7" cy="238.0" r="1.5" fill="#3f80f7"/><circle cx="192.1" cy="281.2" r="1.5" fill="#9839cc"/><circle cx="238.3" cy="213.8" r="1.5" fill="#ad31bb"/><circle cx="202.3" cy="264.0" r="1.5" fill="#4972f2"/><circle cx="225.8" cy="234.2" r="1.5" fill="#9839cc"/><circle cx="275.5" cy="218.5" r="1.5" fill="#ed237a"/><circle cx="208.0" cy="218.7" r="1.5" fill="#4972f2"/><circle cx="229.1" cy="234.6" r="1.5" fill="#f5226f"/><circle cx="216.7" cy="282.8" r="1.5" fill="#fa2168"/><circle cx="255.1" cy="260.3" r="1.5" fill="#e22489"/><circle cx="270.8" cy="217.4" r="1.5" fill="#9839cc"/><circle cx="180.6" cy="217.1" r="1.5" fill="#4a71f2"/><circle cx="192.5" cy="237.8" r="1.5" fill="#516aef"/><circle cx="146.7" cy="215.3" r="1.5" fill="#4677f4"/><circle cx="109.0" cy="216.9" r="1.5" fill="#5169ef"/><circle cx="175.2" cy="240.0" r="1.5" fill="#447af5"/><circle cx="224.3" cy="236.9" r="1.5" fill="#8642d9"/><circle cx="248.6" cy="217.2" r="1.5" fill="#eb237d"/><circle cx="304.4" cy="218.8" r="1.5" fill="#eb237d"/><circle cx="199.6" cy="213.7" r="1.5" fill="#4f6bef"/><circle cx="205.2" cy="281.7" r="1.5" fill="#784bdf"/><circle cx="222.1" cy="304.4" r="1.5" fill="#ec237c"/><circle cx="209.7" cy="305.8" r="1.5" fill="#437cf6"/><circle cx="196.9" cy="280.6" r="1.5" fill="#4974f3"/><circle cx="200.8" cy="217.5" r="1.5" fill="#7a4adf"/><circle cx="138.3" cy="216.9" r="1.5" fill="#8b3fd6"/><circle cx="222.8" cy="241.3" r="1.5" fill="#fa2168"/><circle cx="215.7" cy="217.5" r="1.5" fill="#8046dc"/><circle cx="197.7" cy="259.2" r="1.5" fill="#774ce0"/><circle cx="252.1" cy="215.8" r="1.5" fill="#eb237d"/><circle cx="159.7" cy="216.9" r="1.5" fill="#8c3ed6"/><circle cx="230.6" cy="237.7" r="1.5" fill="#8642d9"/><circle cx="229.3" cy="241.7" r="1.5" fill="#f42271"/><circle cx="152.9" cy="216.9" r="1.5" fill="#9a38ca"/><circle cx="202.8" cy="264.2" r="1.5" fill="#4b71f2"/><circle cx="106.9" cy="217.2" r="1.5" fill="#3f81f8"/><circle cx="256.4" cy="215.4" r="1.5" fill="#e2248a"/><circle cx="200.9" cy="215.4" r="1.5" fill="#9938cb"/><circle cx="235.4" cy="281.8" r="1.5" fill="#f6226e"/><circle cx="201.4" cy="303.3" r="1.5" fill="#5666ed"/><circle cx="199.5" cy="239.0" r="1.5" fill="#407ff7"/><circle cx="219.6" cy="279.1" r="1.5" fill="#d82694"/><circle cx="128.2" cy="215.8" r="1.5" fill="#8f3dd3"/><circle cx="193.9" cy="260.6" r="1.5" fill="#4c6ef1"/><circle cx="220.1" cy="300.8" r="1.5" fill="#ec237b"/><circle cx="206.7" cy="304.8" r="1.5" fill="#8f3dd4"/><circle cx="214.4" cy="305.6" r="1.5" fill="#a434c2"/><circle cx="247.2" cy="218.7" r="1.5" fill="#9838cc"/><circle cx="211.6" cy="307.0" r="1.5" fill="#cb29a1"/><circle cx="200.0" cy="259.0" r="1.5" fill="#4c6ef1"/><circle cx="214.5" cy="282.5" r="1.5" fill="#c22baa"/><circle cx="258.6" cy="260.4" r="1.5" fill="#b92db1"/><circle cx="186.4" cy="303.7" r="1.5" fill="#9938cb"/><circle cx="181.9" cy="219.1" r="1.5" fill="#8841d8"/><circle cx="233.4" cy="218.7" r="1.5" fill="#a832bf"/><circle cx="229.0" cy="240.4" r="1.5" fill="#9c37c8"/><circle cx="218.8" cy="284.1" r="1.5" fill="#fb2166"/><circle cx="173.1" cy="240.6" r="1.5" fill="#4776f4"/><circle cx="196.3" cy="263.0" r="1.5" fill="#9838cb"/><circle cx="203.1" cy="301.3" r="1.5" fill="#407ff7"/><circle cx="194.7" cy="238.9" r="1.5" fill="#4776f4"/><circle cx="256.8" cy="220.6" r="1.5" fill="#ef2378"/><circle cx="203.4" cy="306.8" r="1.5" fill="#9938cb"/><circle cx="186.7" cy="238.2" r="1.5" fill="#437cf6"/><circle cx="150.2" cy="212.1" r="1.5" fill="#4874f3"/><circle cx="228.2" cy="237.6" r="1.5" fill="#f52270"/><circle cx="241.2" cy="217.5" r="1.5" fill="#953ace"/><circle cx="123.8" cy="213.7" r="1.5" fill="#774ce0"/><circle cx="215.2" cy="240.5" r="1.5" fill="#744ee1"/><circle cx="141.7" cy="212.4" r="1.5" fill="#8940d7"/><circle cx="222.3" cy="282.8" r="1.5" fill="#ea237f"/><circle cx="193.5" cy="303.8" r="1.5" fill="#8742d9"/><circle cx="203.0" cy="280.6" r="1.5" fill="#8e3dd5"/><circle cx="212.9" cy="300.0" r="1.5" fill="#a932be"/><circle cx="230.7" cy="278.9" r="1.5" fill="#b82db2"/><circle cx="197.7" cy="282.5" r="1.5" fill="#4f6bf0"/><circle cx="236.6" cy="260.6" r="1.5" fill="#e52485"/><circle cx="133.4" cy="220.1" r="1.5" fill="#4973f2"/><circle cx="235.7" cy="302.6" r="1.5" fill="#fd2063"/><circle cx="179.5" cy="238.0" r="1.5" fill="#407ff7"/><circle cx="226.3" cy="281.5" r="1.5" fill="#f22274"/><circle cx="223.7" cy="240.4" r="1.5" fill="#a434c2"/><circle cx="229.3" cy="243.0" r="1.5" fill="#cd289f"/><circle cx="144.6" cy="220.5" r="1.5" fill="#9c37c8"/><circle cx="220.8" cy="237.7" r="1.5" fill="#9739cc"/><circle cx="184.3" cy="218.6" r="1.5" fill="#4579f5"/><circle cx="199.1" cy="304.6" r="1.5" fill="#9f36c6"/><circle cx="200.1" cy="281.3" r="1.5" fill="#4874f3"/><circle cx="243.6" cy="239.3" r="1.5" fill="#933bd0"/><circle cx="187.1" cy="241.8" r="1.5" fill="#4775f3"/><circle cx="201.8" cy="278.9" r="1.5" fill="#933bd0"/><circle cx="111.3" cy="219.0" r="1.5" fill="#4579f5"/><circle cx="203.9" cy="238.9" r="1.5" fill="#9938cb"/><circle cx="218.7" cy="260.3" r="1.5" fill="#9938cb"/><circle cx="142.3" cy="222.2" r="1.5" fill="#8742d9"/><circle cx="222.9" cy="235.6" r="1.5" fill="#a533c1"/><circle cx="200.5" cy="282.7" r="1.5" fill="#9e36c7"/><circle cx="192.9" cy="214.2" r="1.5" fill="#784bdf"/><circle cx="132.6" cy="220.1" r="1.5" fill="#7d48dd"/><circle cx="211.4" cy="280.2" r="1.5" fill="#c12baa"/><circle cx="241.0" cy="260.6" r="1.5" fill="#a932be"/><circle cx="207.8" cy="280.4" r="1.5" fill="#8244da"/><circle cx="208.9" cy="301.2" r="1.5" fill="#4c6ff1"/><circle cx="204.7" cy="259.3" r="1.5" fill="#4c6ff1"/><circle cx="180.2" cy="215.4" r="1.5" fill="#437bf5"/><circle cx="206.6" cy="279.1" r="1.5" fill="#b92db1"/><circle cx="184.6" cy="213.7" r="1.5" fill="#774ce0"/><circle cx="194.7" cy="258.3" r="1.5" fill="#4874f3"/><circle cx="219.0" cy="280.6" r="1.5" fill="#c42aa7"/><circle cx="225.2" cy="279.4" r="1.5" fill="#b82db3"/><circle cx="208.3" cy="278.1" r="1.5" fill="#bd2cae"/><circle cx="153.9" cy="213.7" r="1.5" fill="#447af5"/><circle cx="205.2" cy="253.1" r="1.5" fill="#4874f3"/><circle cx="192.9" cy="236.5" r="1.5" fill="#427df6"/><circle cx="197.6" cy="261.4" r="1.5" fill="#5468ee"/><circle cx="217.9" cy="306.2" r="1.5" fill="#de258e"/><circle cx="226.6" cy="238.9" r="1.5" fill="#8e3dd4"/><circle cx="195.4" cy="262.7" r="1.5" fill="#9a38ca"/><circle cx="179.2" cy="213.8" r="1.5" fill="#8e3dd4"/><circle cx="193.1" cy="264.0" r="1.5" fill="#4a71f2"/><circle cx="206.8" cy="306.2" r="1.5" fill="#8145db"/><circle cx="205.5" cy="285.3" r="1.5" fill="#943acf"/><circle cx="223.6" cy="260.6" r="1.5" fill="#8145db"/><circle cx="148.6" cy="214.2" r="1.5" fill="#3e82f8"/><circle cx="217.4" cy="306.1" r="1.5" fill="#db2592"/><circle cx="131.7" cy="223.6" r="1.5" fill="#5666ed"/><circle cx="219.1" cy="305.9" r="1.5" fill="#bd2cae"/><circle cx="211.7" cy="303.6" r="1.5" fill="#de258e"/><circle cx="168.8" cy="239.2" r="1.5" fill="#5467ee"/><circle cx="292.2" cy="215.9" r="1.5" fill="#fb2166"/><circle cx="239.8" cy="260.7" r="1.5" fill="#f8216b"/><circle cx="137.7" cy="213.9" r="1.5" fill="#3e81f8"/><circle cx="227.5" cy="242.5" r="1.5" fill="#9a38ca"/><circle cx="119.7" cy="220.7" r="1.5" fill="#4677f4"/><circle cx="211.0" cy="282.4" r="1.5" fill="#9a38ca"/><circle cx="150.1" cy="217.3" r="1.5" fill="#4874f3"/><circle cx="203.8" cy="261.4" r="1.5" fill="#4d6df0"/><circle cx="206.0" cy="253.3" r="1.5" fill="#4678f4"/><circle cx="206.4" cy="282.6" r="1.5" fill="#d0289c"/><circle cx="222.9" cy="234.4" r="1.5" fill="#8e3dd5"/><circle cx="234.4" cy="238.8" r="1.5" fill="#933bd0"/><circle cx="181.5" cy="240.1" r="1.5" fill="#3f80f7"/><circle cx="207.4" cy="259.1" r="1.5" fill="#4973f2"/><circle cx="201.9" cy="298.8" r="1.5" fill="#9d36c7"/><circle cx="143.9" cy="223.3" r="1.5" fill="#447af5"/><circle cx="222.1" cy="217.4" r="1.5" fill="#953ace"/><circle cx="177.8" cy="240.4" r="1.5" fill="#417ef6"/><circle cx="206.1" cy="255.4" r="1.5" fill="#4578f4"/><circle cx="168.5" cy="219.0" r="1.5" fill="#5666ed"/><circle cx="215.9" cy="298.5" r="1.5" fill="#c829a3"/><circle cx="206.3" cy="258.4" r="1.5" fill="#4677f4"/><circle cx="203.0" cy="276.5" r="1.5" fill="#7b49de"/><circle cx="126.0" cy="220.4" r="1.5" fill="#3f81f8"/><circle cx="132.2" cy="223.4" r="1.5" fill="#8145db"/><circle cx="194.7" cy="280.1" r="1.5" fill="#9739cd"/><circle cx="154.0" cy="222.2" r="1.5" fill="#9c37c9"/><circle cx="231.8" cy="303.8" r="1.5" fill="#e72483"/><circle cx="189.7" cy="282.5" r="1.5" fill="#4c6ff1"/><circle cx="266.1" cy="218.9" r="1.5" fill="#de258e"/><circle cx="150.9" cy="215.3" r="1.5" fill="#933bd0"/><circle cx="265.6" cy="217.4" r="1.5" fill="#f7226d"/><circle cx="142.8" cy="215.4" r="1.5" fill="#4e6cf0"/><circle cx="202.5" cy="287.5" r="1.5" fill="#4a71f2"/><circle cx="209.1" cy="304.5" r="1.5" fill="#8b3fd6"/><circle cx="209.3" cy="302.6" r="1.5" fill="#5268ee"/><circle cx="278.6" cy="217.5" r="1.5" fill="#ef2377"/><circle cx="231.2" cy="241.8" r="1.5" fill="#a633c0"/><circle cx="207.8" cy="281.6" r="1.5" fill="#d42798"/><circle cx="295.6" cy="213.8" r="1.5" fill="#c52aa7"/><circle cx="216.6" cy="217.3" r="1.5" fill="#933bd0"/><circle cx="293.7" cy="220.7" r="1.5" fill="#ec237c"/><circle cx="205.8" cy="218.6" r="1.5" fill="#8a40d7"/><circle cx="188.2" cy="237.8" r="1.5" fill="#407ff7"/><circle cx="191.9" cy="215.7" r="1.5" fill="#8b3fd6"/><circle cx="266.2" cy="214.3" r="1.5" fill="#ea237e"/><circle cx="191.4" cy="217.5" r="1.5" fill="#774ce0"/><circle cx="227.4" cy="241.4" r="1.5" fill="#a135c4"/><circle cx="210.1" cy="304.8" r="1.5" fill="#ac31bb"/><circle cx="199.4" cy="284.2" r="1.5" fill="#8d3ed5"/><circle cx="199.1" cy="281.3" r="1.5" fill="#5169ef"/><circle cx="193.7" cy="281.8" r="1.5" fill="#9938cb"/><circle cx="190.1" cy="280.5" r="1.5" fill="#5169ef"/><circle cx="216.6" cy="285.3" r="1.5" fill="#af30b9"/><circle cx="234.9" cy="260.3" r="1.5" fill="#e82481"/><circle cx="201.8" cy="238.1" r="1.5" fill="#8940d7"/><circle cx="193.1" cy="239.0" r="1.5" fill="#427cf6"/><circle cx="190.4" cy="236.9" r="1.5" fill="#4579f5"/><circle cx="230.9" cy="240.5" r="1.5" fill="#8940d7"/><circle cx="138.4" cy="212.2" r="1.5" fill="#7a4adf"/><circle cx="223.5" cy="304.4" r="1.5" fill="#ef2378"/><circle cx="212.2" cy="280.2" r="1.5" fill="#8145db"/><circle cx="193.1" cy="259.1" r="1.5" fill="#5269ef"/><circle cx="210.0" cy="281.2" r="1.5" fill="#bd2cae"/><circle cx="144.4" cy="213.9" r="1.5" fill="#437bf5"/><circle cx="228.6" cy="236.8" r="1.5" fill="#f32272"/><circle cx="192.6" cy="303.5" r="1.5" fill="#764de0"/><circle cx="217.2" cy="239.2" r="1.5" fill="#8d3dd5"/><circle cx="282.1" cy="214.3" r="1.5" fill="#f52270"/><circle cx="245.5" cy="260.8" r="1.5" fill="#ff2060"/><circle cx="205.7" cy="300.2" r="1.5" fill="#913cd2"/><circle cx="232.3" cy="240.6" r="1.5" fill="#9938cb"/><circle cx="198.3" cy="306.0" r="1.5" fill="#7c49de"/><circle cx="214.8" cy="307.4" r="1.5" fill="#f22274"/><circle cx="280.8" cy="213.9" r="1.5" fill="#ee237a"/><circle cx="256.5" cy="215.5" r="1.5" fill="#af30b9"/><circle cx="203.5" cy="259.4" r="1.5" fill="#8145db"/><circle cx="238.4" cy="237.7" r="1.5" fill="#ec237c"/><circle cx="197.1" cy="237.6" r="1.5" fill="#427cf6"/><circle cx="197.8" cy="282.5" r="1.5" fill="#5567ee"/><circle cx="223.4" cy="277.7" r="1.5" fill="#cc28a0"/><circle cx="222.2" cy="303.8" r="1.5" fill="#fb2167"/><circle cx="204.7" cy="260.2" r="1.5" fill="#4677f4"/><circle cx="239.3" cy="217.4" r="1.5" fill="#8f3dd4"/><circle cx="228.7" cy="281.7" r="1.5" fill="#d92694"/><circle cx="204.1" cy="278.0" r="1.5" fill="#437bf5"/><circle cx="201.5" cy="308.2" r="1.5" fill="#4080f7"/><circle cx="130.5" cy="222.3" r="1.5" fill="#5666ed"/><circle cx="202.3" cy="306.9" r="1.5" fill="#4676f4"/><circle cx="201.6" cy="215.6" r="1.5" fill="#8b3ed6"/><circle cx="135.3" cy="215.6" r="1.5" fill="#8e3dd4"/><circle cx="198.2" cy="302.4" r="1.5" fill="#447af5"/><circle cx="193.9" cy="258.2" r="1.5" fill="#8a3fd7"/><circle cx="149.1" cy="218.7" r="1.5" fill="#4e6cf0"/><circle cx="298.3" cy="215.9" r="1.5" fill="#ef2378"/><circle cx="214.1" cy="239.2" r="1.5" fill="#4a71f2"/><circle cx="191.3" cy="280.4" r="1.5" fill="#4d6ef1"/><circle cx="187.2" cy="240.4" r="1.5" fill="#4874f3"/><circle cx="172.0" cy="217.4" r="1.5" fill="#8245db"/><circle cx="210.2" cy="281.7" r="1.5" fill="#de258f"/><circle cx="201.6" cy="300.0" r="1.5" fill="#923bd1"/><circle cx="215.5" cy="260.8" r="1.5" fill="#8841d8"/><circle cx="199.1" cy="280.1" r="1.5" fill="#943acf"/><circle cx="180.5" cy="220.1" r="1.5" fill="#a035c5"/><circle cx="204.1" cy="304.7" r="1.5" fill="#4c6ef1"/><circle cx="132.1" cy="213.9" r="1.5" fill="#8940d7"/><circle cx="231.0" cy="302.0" r="1.5" fill="#f92169"/><circle cx="190.5" cy="237.7" r="1.5" fill="#3f80f7"/><circle cx="204.2" cy="254.7" r="1.5" fill="#774ce0"/><circle cx="175.4" cy="239.1" r="1.5" fill="#3f81f8"/><circle cx="175.7" cy="213.9" r="1.5" fill="#8542d9"/><circle cx="105.0" cy="217.2" r="1.5" fill="#784bdf"/><circle cx="193.8" cy="261.5" r="1.5" fill="#4c6ff1"/><circle cx="215.3" cy="299.8" r="1.5" fill="#a932be"/><circle cx="262.6" cy="260.7" r="1.5" fill="#b52eb5"/><circle cx="126.3" cy="217.3" r="1.5" fill="#8f3dd4"/><circle cx="199.2" cy="279.0" r="1.5" fill="#437cf6"/><circle cx="196.9" cy="261.5" r="1.5" fill="#4e6cf0"/><circle cx="165.0" cy="238.9" r="1.5" fill="#5269ef"/><circle cx="249.0" cy="260.5" r="1.5" fill="#ff2061"/><circle cx="122.2" cy="220.3" r="1.5" fill="#4776f4"/><circle cx="203.5" cy="259.2" r="1.5" fill="#4c6ff1"/><circle cx="294.4" cy="215.4" r="1.5" fill="#e62484"/><circle cx="197.4" cy="237.6" r="1.5" fill="#407ff7"/><circle cx="167.5" cy="215.8" r="1.5" fill="#506aef"/><circle cx="223.7" cy="240.0" r="1.5" fill="#fb2167"/><circle cx="216.4" cy="237.9" r="1.5" fill="#7f46dc"/><circle cx="229.3" cy="238.9" r="1.5" fill="#9839cc"/><circle cx="171.2" cy="239.2" r="1.5" fill="#4479f5"/><circle cx="231.0" cy="281.8" r="1.5" fill="#b42eb6"/><circle cx="235.8" cy="218.6" r="1.5" fill="#9f35c6"/><circle cx="249.2" cy="215.7" r="1.5" fill="#963ace"/><circle cx="218.3" cy="280.6" r="1.5" fill="#dd2590"/><circle cx="182.7" cy="217.3" r="1.5" fill="#437bf5"/><circle cx="232.7" cy="241.8" r="1.5" fill="#a633c0"/><circle cx="203.1" cy="282.5" r="1.5" fill="#5269ef"/><circle cx="297.3" cy="220.2" r="1.5" fill="#cc29a0"/><circle cx="220.9" cy="281.4" r="1.5" fill="#eb237d"/><circle cx="195.1" cy="303.5" r="1.5" fill="#9d36c7"/><circle cx="251.7" cy="217.4" r="1.5" fill="#9938cb"/><circle cx="169.8" cy="219.1" r="1.5" fill="#8841d8"/><circle cx="264.4" cy="217.3" r="1.5" fill="#bb2cb0"/><circle cx="267.6" cy="217.4" r="1.5" fill="#f32272"/><circle cx="227.8" cy="281.4" r="1.5" fill="#e62484"/><circle cx="273.2" cy="220.1" r="1.5" fill="#b92db2"/><circle cx="191.9" cy="261.6" r="1.5" fill="#506aef"/><circle cx="206.4" cy="304.5" r="1.5" fill="#943acf"/><circle cx="225.8" cy="241.3" r="1.5" fill="#cb29a1"/><circle cx="231.1" cy="239.4" r="1.5" fill="#a932be"/><circle cx="201.6" cy="277.7" r="1.5" fill="#7e47dd"/><circle cx="196.8" cy="281.4" r="1.5" fill="#3e82f8"/><circle cx="198.4" cy="240.6" r="1.5" fill="#427cf6"/><circle cx="187.8" cy="261.7" r="1.5" fill="#4b71f2"/><circle cx="262.3" cy="212.4" r="1.5" fill="#963ace"/><circle cx="233.6" cy="281.8" r="1.5" fill="#fe2061"/><circle cx="161.9" cy="212.7" r="1.5" fill="#9b37c9"/><circle cx="182.1" cy="240.5" r="1.5" fill="#4b70f2"/><circle cx="166.1" cy="217.1" r="1.5" fill="#4578f4"/><circle cx="136.7" cy="218.5" r="1.5" fill="#4d6df0"/><circle cx="199.4" cy="280.1" r="1.5" fill="#7a4ade"/><circle cx="233.2" cy="280.0" r="1.5" fill="#f6226e"/><circle cx="233.9" cy="237.6" r="1.5" fill="#9f35c5"/><circle cx="213.4" cy="281.4" r="1.5" fill="#c829a4"/><circle cx="233.5" cy="217.4" r="1.5" fill="#903cd3"/><circle cx="202.2" cy="259.2" r="1.5" fill="#407ff7"/><circle cx="277.0" cy="219.0" r="1.5" fill="#fb2166"/><circle cx="203.8" cy="258.3" r="1.5" fill="#427cf6"/><circle cx="214.7" cy="280.6" r="1.5" fill="#953acf"/><circle cx="204.1" cy="261.6" r="1.5" fill="#417df6"/><circle cx="196.5" cy="303.2" r="1.5" fill="#8c3ed6"/><circle cx="231.2" cy="302.3" r="1.5" fill="#ed237b"/><circle cx="204.9" cy="265.6" r="1.5" fill="#4677f4"/><circle cx="213.8" cy="238.1" r="1.5" fill="#427df6"/><circle cx="224.6" cy="304.7" r="1.5" fill="#f8216b"/><circle cx="236.1" cy="280.0" r="1.5" fill="#e22489"/><circle cx="102.5" cy="217.2" r="1.5" fill="#3e82f8"/><circle cx="227.0" cy="217.2" r="1.5" fill="#407ff7"/><circle cx="235.3" cy="217.2" r="1.5" fill="#437bf5"/><circle cx="309.8" cy="217.2" r="1.5" fill="#ff2060"/><circle cx="315.8" cy="217.2" r="1.5" fill="#ff2060"/><circle cx="150.2" cy="239.1" r="1.5" fill="#3e82f8"/><circle cx="156.1" cy="239.1" r="1.5" fill="#407ff7"/><circle cx="252.3" cy="239.1" r="1.5" fill="#963ace"/><circle cx="178.2" cy="260.5" r="1.5" fill="#963ace"/><circle cx="272.9" cy="260.5" r="1.5" fill="#ed237b"/><circle cx="275.6" cy="260.5" r="1.5" fill="#e52485"/><circle cx="278.2" cy="260.5" r="1.5" fill="#f52270"/><circle cx="283.5" cy="260.5" r="1.5" fill="#f52270"/><circle cx="286.2" cy="260.5" r="1.5" fill="#ed237b"/><circle cx="294.0" cy="260.5" r="1.5" fill="#d2279b"/><circle cx="297.5" cy="260.5" r="1.5" fill="#dd2590"/><circle cx="300.6" cy="260.5" r="1.5" fill="#e52485"/><circle cx="184.9" cy="281.5" r="1.5" fill="#963ace"/><circle cx="241.6" cy="281.5" r="1.5" fill="#ff2060"/><circle cx="184.5" cy="303.5" r="1.5" fill="#963ace"/><circle cx="246.0" cy="303.5" r="1.5" fill="#ff2060"/><circle cx="251.2" cy="303.5" r="1.5" fill="#ff2060"/></g>
<line x1="91.7" y1="325.8" x2="327.1" y2="325.8" stroke="#777" stroke-width="1"/>
<line x1="115.5" y1="325.8" x2="115.5" y2="328.8" stroke="#555" stroke-width="0.9"/>
<text x="115.5" y="336.3" font-size="8.2" text-anchor="middle" fill="#3a3a3a" stroke="#3a3a3a" stroke-width="0.18" textLength="15.6" lengthAdjust="spacingAndGlyphs" >−0.4</text>
<line x1="163.0" y1="325.8" x2="163.0" y2="328.8" stroke="#555" stroke-width="0.9"/>
<text x="163.0" y="336.3" font-size="8.2" text-anchor="middle" fill="#3a3a3a" stroke="#3a3a3a" stroke-width="0.18" textLength="15.6" lengthAdjust="spacingAndGlyphs" >−0.2</text>
<line x1="210.5" y1="325.8" x2="210.5" y2="328.8" stroke="#555" stroke-width="0.9"/>
<text x="210.5" y="336.3" font-size="8.2" text-anchor="middle" fill="#3a3a3a" stroke="#3a3a3a" stroke-width="0.18" textLength="10.2" lengthAdjust="spacingAndGlyphs" >0.0</text>
<line x1="258.0" y1="325.8" x2="258.0" y2="328.8" stroke="#555" stroke-width="0.9"/>
<text x="258.0" y="336.3" font-size="8.2" text-anchor="middle" fill="#3a3a3a" stroke="#3a3a3a" stroke-width="0.18" textLength="10.2" lengthAdjust="spacingAndGlyphs" >0.2</text>
<line x1="305.5" y1="325.8" x2="305.5" y2="328.8" stroke="#555" stroke-width="0.9"/>
<text x="305.5" y="336.3" font-size="8.2" text-anchor="middle" fill="#3a3a3a" stroke="#3a3a3a" stroke-width="0.18" textLength="10.2" lengthAdjust="spacingAndGlyphs" >0.4</text>
<text x="126.6" y="346.9" font-size="8.9" text-anchor="start" fill="#3a3a3a" stroke="#3a3a3a" stroke-width="0.18" textLength="164.9" lengthAdjust="spacingAndGlyphs" >SHAP value (impact on model output)</text>
<defs><linearGradient id="cb" x1="0" y1="1" x2="0" y2="0"><stop offset="0" stop-color="#3d8ef8"/><stop offset="0.5" stop-color="#8a3fd0"/><stop offset="1" stop-color="#f2205e"/></linearGradient></defs>
<rect x="341.1" y="195.5" width="1.8" height="130.1" fill="url(#cb)"/>
<text x="345.4" y="198.7" font-size="7.0" text-anchor="start" fill="#3a3a3a" stroke="#3a3a3a" stroke-width="0.18" textLength="15.6" lengthAdjust="spacingAndGlyphs" >High</text>
<text x="345.4" y="329.0" font-size="7.0" text-anchor="start" fill="#3a3a3a" stroke="#3a3a3a" stroke-width="0.18" textLength="12.6" lengthAdjust="spacingAndGlyphs" >Low</text>
<text x="0" y="0" font-size="9.0" text-anchor="middle" fill="#3a3a3a" stroke="#3a3a3a" stroke-width="0.18" textLength="55.5" lengthAdjust="spacingAndGlyphs" transform="translate(368.0 261.7) rotate(-90)">Feature value</text>
<rect x="458.5" y="124.3" width="224.79999999999995" height="182.3" fill="none" stroke="#dcdcdc" stroke-width="1"/>
<path d="M548.10,306.3 L548.10,303.9 L552.60,303.9 L552.60,303.9 L557.10,303.9 L557.10,302.6 L561.60,302.6 L561.60,306.3 L566.10,306.3 L566.10,300.8 L570.60,300.8 L570.60,298.5 L575.10,298.5 L575.10,298.5 L579.60,298.5 L579.60,293.8 L584.10,293.8 L584.10,293.8 L588.60,293.8 L588.60,293.8 L593.10,293.8 L593.10,290.3 L597.60,290.3 L597.60,290.3 L602.10,290.3 L602.10,294.0 L606.60,294.0 L606.60,294.4 L611.10,294.4 L611.10,299.1 L615.60,299.1 L615.60,294.0 L620.10,294.0 L620.10,302.1 L624.60,302.1 L624.60,300.6 L629.10,300.6 L629.10,301.9 L633.60,301.9 L633.60,302.8 L638.10,302.8 L638.10,302.1 L642.60,302.1 L642.60,305.0 L647.10,305.0 L647.10,303.3 L651.60,303.3 L651.60,305.6 L656.10,305.6 L656.10,305.1 L660.60,305.1 L660.60,305.8 L665.10,305.8 L665.10,306.3 Z" fill="#e3e3e3"/>
<g fill="#5c5c5c"><circle cx="468.6" cy="269.2" r="1.42"/><circle cx="483.4" cy="276.6" r="1.42"/><circle cx="488.7" cy="274.5" r="1.42"/><circle cx="492.0" cy="267.3" r="1.42"/><circle cx="521.3" cy="214.1" r="1.42"/><circle cx="539.4" cy="227.1" r="1.42"/><circle cx="546.5" cy="229.7" r="1.42"/><circle cx="542.3" cy="261.1" r="1.42"/><circle cx="536.4" cy="273.3" r="1.42"/><circle cx="617.1" cy="148.3" r="1.42"/><circle cx="605.8" cy="153.9" r="1.42"/><circle cx="609.9" cy="158.5" r="1.42"/><circle cx="617.7" cy="159.8" r="1.42"/><circle cx="613.7" cy="163.4" r="1.42"/><circle cx="617.1" cy="163.4" r="1.42"/><circle cx="650.86" cy="132.34" r="1.42"/><circle cx="640.8" cy="136.91" r="1.42"/><circle cx="641.71" cy="139.66" r="1.42"/><circle cx="638.06" cy="140.34" r="1.42"/><circle cx="633.14" cy="141.14" r="1.42"/><circle cx="634.86" cy="141.37" r="1.42"/><circle cx="620.91" cy="140.34" r="1.42"/><circle cx="630.06" cy="144.57" r="1.42"/><circle cx="625.94" cy="145.14" r="1.42"/><circle cx="633.71" cy="145.71" r="1.42"/><circle cx="633.14" cy="147.2" r="1.42"/><circle cx="641.71" cy="144.91" r="1.42"/><circle cx="643.43" cy="144.0" r="1.42"/><circle cx="637.14" cy="148.91" r="1.42"/><circle cx="644.0" cy="149.71" r="1.42"/><circle cx="648.0" cy="150.86" r="1.42"/><circle cx="649.14" cy="150.29" r="1.42"/><circle cx="649.94" cy="151.77" r="1.42"/><circle cx="648.57" cy="152.0" r="1.42"/><circle cx="653.37" cy="148.34" r="1.42"/><circle cx="657.14" cy="147.43" r="1.42"/><circle cx="658.86" cy="146.63" r="1.42"/><circle cx="621.14" cy="151.43" r="1.42"/><circle cx="623.43" cy="153.14" r="1.42"/><circle cx="625.14" cy="152.0" r="1.42"/><circle cx="626.29" cy="150.86" r="1.42"/><circle cx="627.43" cy="152.0" r="1.42"/><circle cx="625.71" cy="153.71" r="1.42"/><circle cx="628.0" cy="154.29" r="1.42"/><circle cx="624.57" cy="154.86" r="1.42"/><circle cx="632.0" cy="153.71" r="1.42"/><circle cx="633.71" cy="152.57" r="1.42"/><circle cx="635.43" cy="152.0" r="1.42"/><circle cx="637.14" cy="151.43" r="1.42"/><circle cx="639.43" cy="152.0" r="1.42"/><circle cx="642.86" cy="154.29" r="1.42"/><circle cx="633.71" cy="156.23" r="1.42"/><circle cx="648.57" cy="155.77" r="1.42"/><circle cx="621.14" cy="157.14" r="1.42"/><circle cx="621.71" cy="158.29" r="1.42"/><circle cx="620.57" cy="159.43" r="1.42"/><circle cx="622.29" cy="156.57" r="1.42"/><circle cx="638.86" cy="156.57" r="1.42"/><circle cx="640.57" cy="157.71" r="1.42"/><circle cx="642.29" cy="158.29" r="1.42"/><circle cx="644.0" cy="160.0" r="1.42"/><circle cx="644.57" cy="161.71" r="1.42"/><circle cx="626.29" cy="160.57" r="1.42"/><circle cx="628.0" cy="161.14" r="1.42"/><circle cx="629.71" cy="160.0" r="1.42"/><circle cx="631.43" cy="159.43" r="1.42"/><circle cx="632.0" cy="161.71" r="1.42"/><circle cx="630.29" cy="162.86" r="1.42"/><circle cx="633.14" cy="163.43" r="1.42"/><circle cx="627.43" cy="162.86" r="1.42"/><circle cx="636.0" cy="158.86" r="1.42"/><circle cx="637.14" cy="160.57" r="1.42"/><circle cx="671.6" cy="146.6" r="1.42"/><circle cx="673.3" cy="145.7" r="1.42"/><circle cx="662.4" cy="152.6" r="1.42"/><circle cx="566.7" cy="194.7" r="1.42"/><circle cx="551.8" cy="201.5" r="1.42"/><circle cx="578.9" cy="201.4" r="1.42"/><circle cx="604.79" cy="167.14" r="1.42"/><circle cx="608.71" cy="167.14" r="1.42"/><circle cx="618.71" cy="167.14" r="1.42"/><circle cx="616.21" cy="168.57" r="1.42"/><circle cx="613.36" cy="170.0" r="1.42"/><circle cx="611.57" cy="171.43" r="1.42"/><circle cx="606.93" cy="171.07" r="1.42"/><circle cx="618.0" cy="171.43" r="1.42"/><circle cx="615.14" cy="172.86" r="1.42"/><circle cx="605.14" cy="173.21" r="1.42"/><circle cx="609.43" cy="173.57" r="1.42"/><circle cx="613.0" cy="173.57" r="1.42"/><circle cx="617.29" cy="173.57" r="1.42"/><circle cx="604.79" cy="175.71" r="1.42"/><circle cx="607.29" cy="175.0" r="1.42"/><circle cx="612.29" cy="176.07" r="1.42"/><circle cx="615.86" cy="176.07" r="1.42"/><circle cx="618.71" cy="175.71" r="1.42"/><circle cx="605.14" cy="177.5" r="1.42"/><circle cx="609.43" cy="177.5" r="1.42"/><circle cx="613.71" cy="177.86" r="1.42"/><circle cx="607.29" cy="179.29" r="1.42"/><circle cx="610.86" cy="179.29" r="1.42"/><circle cx="615.14" cy="178.57" r="1.42"/><circle cx="617.29" cy="180.71" r="1.42"/><circle cx="603.71" cy="181.29" r="1.42"/><circle cx="608.71" cy="181.43" r="1.42"/><circle cx="611.57" cy="181.79" r="1.42"/><circle cx="614.43" cy="181.43" r="1.42"/><circle cx="606.57" cy="183.57" r="1.42"/><circle cx="610.14" cy="183.93" r="1.42"/><circle cx="613.71" cy="183.93" r="1.42"/><circle cx="635.43" cy="167.2" r="1.42"/><circle cx="639.43" cy="167.2" r="1.42"/><circle cx="642.86" cy="165.71" r="1.42"/><circle cx="642.29" cy="168.8" r="1.42"/><circle cx="620.57" cy="165.71" r="1.42"/><circle cx="621.14" cy="169.14" r="1.42"/><circle cx="622.86" cy="170.86" r="1.42"/><circle cx="621.71" cy="173.14" r="1.42"/><circle cx="623.43" cy="175.43" r="1.42"/><circle cx="620.57" cy="172.0" r="1.42"/><circle cx="626.86" cy="173.14" r="1.42"/><circle cx="632.0" cy="171.43" r="1.42"/><circle cx="640.57" cy="173.14" r="1.42"/><circle cx="631.43" cy="176.57" r="1.42"/><circle cx="633.14" cy="179.2" r="1.42"/><circle cx="634.86" cy="179.2" r="1.42"/><circle cx="644.0" cy="177.49" r="1.42"/><circle cx="648.91" cy="175.2" r="1.42"/><circle cx="652.91" cy="179.2" r="1.42"/><circle cx="625.94" cy="182.63" r="1.42"/><circle cx="640.0" cy="182.63" r="1.42"/><circle cx="642.86" cy="186.06" r="1.42"/><circle cx="622.06" cy="190.06" r="1.42"/><circle cx="625.14" cy="192.0" r="1.42"/><circle cx="659.43" cy="167.43" r="1.42"/><circle cx="667.6" cy="185.9" r="1.42"/><circle cx="604.29" cy="186.07" r="1.42"/><circle cx="606.43" cy="186.43" r="1.42"/><circle cx="608.57" cy="185.71" r="1.42"/><circle cx="612.86" cy="185.36" r="1.42"/><circle cx="617.14" cy="186.79" r="1.42"/><circle cx="615.71" cy="188.57" r="1.42"/><circle cx="604.29" cy="188.57" r="1.42"/><circle cx="607.14" cy="188.21" r="1.42"/><circle cx="610.0" cy="187.86" r="1.42"/><circle cx="613.57" cy="190.0" r="1.42"/><circle cx="611.43" cy="191.43" r="1.42"/><circle cx="608.57" cy="191.07" r="1.42"/><circle cx="606.43" cy="191.43" r="1.42"/><circle cx="603.57" cy="192.5" r="1.42"/><circle cx="596.79" cy="193.93" r="1.42"/><circle cx="609.29" cy="193.57" r="1.42"/><circle cx="615.71" cy="193.21" r="1.42"/><circle cx="617.5" cy="193.93" r="1.42"/><circle cx="607.14" cy="194.29" r="1.42"/><circle cx="610.0" cy="195.36" r="1.42"/><circle cx="603.21" cy="196.79" r="1.42"/><circle cx="605.0" cy="196.79" r="1.42"/><circle cx="606.79" cy="196.43" r="1.42"/><circle cx="611.43" cy="197.5" r="1.42"/><circle cx="596.43" cy="206.07" r="1.42"/><circle cx="603.21" cy="205.36" r="1.42"/><circle cx="602.5" cy="206.43" r="1.42"/><circle cx="605.36" cy="207.14" r="1.42"/><circle cx="608.57" cy="206.79" r="1.42"/><circle cx="604.29" cy="208.57" r="1.42"/><circle cx="605.71" cy="208.21" r="1.42"/><circle cx="579.57" cy="209.65" r="1.42"/><circle cx="581.86" cy="209.65" r="1.42"/><circle cx="593.74" cy="212.11" r="1.42"/><circle cx="576.83" cy="214.86" r="1.42"/><circle cx="588.25" cy="216.23" r="1.42"/><circle cx="595.57" cy="217.6" r="1.42"/><circle cx="601.97" cy="216.23" r="1.42"/><circle cx="599.22" cy="219.7" r="1.42"/><circle cx="587.8" cy="220.34" r="1.42"/><circle cx="594.65" cy="220.34" r="1.42"/><circle cx="575.46" cy="219.88" r="1.42"/><circle cx="576.83" cy="221.71" r="1.42"/><circle cx="575.46" cy="223.08" r="1.42"/><circle cx="602.42" cy="220.8" r="1.42"/><circle cx="603.34" cy="222.63" r="1.42"/><circle cx="601.97" cy="224.45" r="1.42"/><circle cx="585.51" cy="224.0" r="1.42"/><circle cx="594.65" cy="224.91" r="1.42"/><circle cx="597.39" cy="224.91" r="1.42"/><circle cx="580.94" cy="227.2" r="1.42"/><circle cx="584.14" cy="226.74" r="1.42"/><circle cx="585.97" cy="225.82" r="1.42"/><circle cx="597.85" cy="227.65" r="1.42"/><circle cx="600.14" cy="227.2" r="1.42"/><circle cx="602.42" cy="226.74" r="1.42"/><circle cx="592.82" cy="228.11" r="1.42"/><circle cx="580.03" cy="230.85" r="1.42"/><circle cx="583.23" cy="229.94" r="1.42"/><circle cx="585.05" cy="229.94" r="1.42"/><circle cx="588.25" cy="229.76" r="1.42"/><circle cx="597.85" cy="229.94" r="1.42"/><circle cx="600.59" cy="229.94" r="1.42"/><circle cx="603.34" cy="230.85" r="1.42"/><circle cx="575.46" cy="229.02" r="1.42"/><circle cx="599.22" cy="232.22" r="1.42"/><circle cx="601.97" cy="232.68" r="1.42"/><circle cx="604.25" cy="233.14" r="1.42"/><circle cx="580.94" cy="234.51" r="1.42"/><circle cx="583.68" cy="234.05" r="1.42"/><circle cx="589.63" cy="233.59" r="1.42"/><circle cx="592.37" cy="234.51" r="1.42"/><circle cx="575.46" cy="234.51" r="1.42"/><circle cx="596.94" cy="236.34" r="1.42"/><circle cx="599.68" cy="237.25" r="1.42"/><circle cx="602.42" cy="236.79" r="1.42"/><circle cx="590.08" cy="237.07" r="1.42"/><circle cx="580.48" cy="238.16" r="1.42"/><circle cx="585.97" cy="239.54" r="1.42"/><circle cx="598.31" cy="239.54" r="1.42"/><circle cx="601.05" cy="239.54" r="1.42"/><circle cx="603.34" cy="238.16" r="1.42"/><circle cx="604.25" cy="212.57" r="1.42"/><circle cx="604.1" cy="213.5" r="1.42"/><circle cx="609.2" cy="218.1" r="1.42"/><circle cx="609.2" cy="221.7" r="1.42"/><circle cx="558.86" cy="206.06" r="1.42"/><circle cx="556.0" cy="208.34" r="1.42"/><circle cx="561.37" cy="210.06" r="1.42"/><circle cx="571.43" cy="209.37" r="1.42"/><circle cx="566.06" cy="213.49" r="1.42"/><circle cx="557.14" cy="213.14" r="1.42"/><circle cx="557.14" cy="216.0" r="1.42"/><circle cx="558.63" cy="218.86" r="1.42"/><circle cx="569.94" cy="216.8" r="1.42"/><circle cx="568.0" cy="221.71" r="1.42"/><circle cx="574.29" cy="219.43" r="1.42"/><circle cx="574.86" cy="221.14" r="1.42"/><circle cx="556.57" cy="222.86" r="1.42"/><circle cx="566.86" cy="226.29" r="1.42"/><circle cx="568.57" cy="225.71" r="1.42"/><circle cx="573.71" cy="227.43" r="1.42"/><circle cx="546.63" cy="229.71" r="1.42"/><circle cx="558.06" cy="229.71" r="1.42"/><circle cx="569.14" cy="233.14" r="1.42"/><circle cx="570.29" cy="232.0" r="1.42"/><circle cx="574.29" cy="233.71" r="1.42"/><circle cx="573.71" cy="235.43" r="1.42"/><circle cx="551.2" cy="234.86" r="1.42"/><circle cx="559.2" cy="234.29" r="1.42"/><circle cx="551.2" cy="238.29" r="1.42"/><circle cx="561.49" cy="238.06" r="1.42"/><circle cx="559.2" cy="240.91" r="1.42"/><circle cx="572.0" cy="245.71" r="1.42"/><circle cx="573.71" cy="245.14" r="1.42"/><circle cx="574.29" cy="249.71" r="1.42"/><circle cx="552.57" cy="253.71" r="1.42"/><circle cx="554.86" cy="254.51" r="1.42"/><circle cx="549.14" cy="257.14" r="1.42"/><circle cx="560.57" cy="257.94" r="1.42"/><circle cx="567.43" cy="256.57" r="1.42"/><circle cx="569.49" cy="255.2" r="1.42"/><circle cx="566.29" cy="260.57" r="1.42"/><circle cx="573.71" cy="258.86" r="1.42"/><circle cx="574.29" cy="262.86" r="1.42"/><circle cx="571.43" cy="267.43" r="1.42"/><circle cx="570.86" cy="269.14" r="1.42"/><circle cx="570.63" cy="270.86" r="1.42"/><circle cx="559.43" cy="266.29" r="1.42"/><circle cx="552.0" cy="270.51" r="1.42"/><circle cx="549.14" cy="273.94" r="1.42"/><circle cx="553.49" cy="273.94" r="1.42"/><circle cx="569.14" cy="276.57" r="1.42"/><circle cx="567.43" cy="277.71" r="1.42"/><circle cx="570.86" cy="279.43" r="1.42"/><circle cx="573.14" cy="278.86" r="1.42"/><circle cx="574.29" cy="281.71" r="1.42"/><circle cx="558.06" cy="282.86" r="1.42"/><circle cx="568.6" cy="286.7" r="1.42"/><circle cx="578.0" cy="241.71" r="1.42"/><circle cx="586.14" cy="240.43" r="1.42"/><circle cx="581.43" cy="243.86" r="1.42"/><circle cx="583.57" cy="243.43" r="1.42"/><circle cx="583.14" cy="245.14" r="1.42"/><circle cx="581.43" cy="247.71" r="1.42"/><circle cx="584.0" cy="247.71" r="1.42"/><circle cx="575.86" cy="250.71" r="1.42"/><circle cx="580.14" cy="250.97" r="1.42"/><circle cx="576.29" cy="255.25" r="1.42"/><circle cx="586.14" cy="253.02" r="1.42"/><circle cx="591.71" cy="241.29" r="1.42"/><circle cx="592.99" cy="242.57" r="1.42"/><circle cx="590.42" cy="244.28" r="1.42"/><circle cx="592.14" cy="244.71" r="1.42"/><circle cx="597.28" cy="240.86" r="1.42"/><circle cx="599.85" cy="240.86" r="1.42"/><circle cx="598.14" cy="243.86" r="1.42"/><circle cx="600.71" cy="243.43" r="1.42"/><circle cx="599.85" cy="245.14" r="1.42"/><circle cx="601.99" cy="244.71" r="1.42"/><circle cx="591.28" cy="249.0" r="1.42"/><circle cx="590.85" cy="250.71" r="1.42"/><circle cx="595.57" cy="248.14" r="1.42"/><circle cx="598.14" cy="248.57" r="1.42"/><circle cx="596.85" cy="250.28" r="1.42"/><circle cx="595.57" cy="251.14" r="1.42"/><circle cx="598.99" cy="251.14" r="1.42"/><circle cx="601.99" cy="250.97" r="1.42"/><circle cx="600.71" cy="252.85" r="1.42"/><circle cx="595.99" cy="253.71" r="1.42"/><circle cx="598.14" cy="254.14" r="1.42"/><circle cx="599.85" cy="255.42" r="1.42"/><circle cx="592.14" cy="254.57" r="1.42"/><circle cx="593.42" cy="256.28" r="1.42"/><circle cx="595.57" cy="256.71" r="1.42"/><circle cx="591.28" cy="257.99" r="1.42"/><circle cx="594.71" cy="258.42" r="1.42"/><circle cx="585.28" cy="256.71" r="1.42"/><circle cx="587.0" cy="257.99" r="1.42"/><circle cx="586.14" cy="259.71" r="1.42"/><circle cx="588.71" cy="260.14" r="1.42"/><circle cx="592.57" cy="260.57" r="1.42"/><circle cx="595.57" cy="260.57" r="1.42"/><circle cx="598.56" cy="260.99" r="1.42"/><circle cx="601.56" cy="263.82" r="1.42"/><circle cx="575.0" cy="259.71" r="1.42"/><circle cx="577.57" cy="261.42" r="1.42"/><circle cx="579.28" cy="262.71" r="1.42"/><circle cx="576.71" cy="263.99" r="1.42"/><circle cx="582.71" cy="261.85" r="1.42"/><circle cx="584.43" cy="263.14" r="1.42"/><circle cx="587.85" cy="262.71" r="1.42"/><circle cx="590.42" cy="263.14" r="1.42"/><circle cx="592.57" cy="262.71" r="1.42"/><circle cx="596.42" cy="262.71" r="1.42"/><circle cx="594.71" cy="264.85" r="1.42"/><circle cx="597.28" cy="264.85" r="1.42"/><circle cx="598.99" cy="266.14" r="1.42"/><circle cx="589.57" cy="265.71" r="1.42"/><circle cx="592.14" cy="265.71" r="1.42"/><circle cx="587.0" cy="265.71" r="1.42"/><circle cx="584.43" cy="266.14" r="1.42"/><circle cx="581.86" cy="267.42" r="1.42"/><circle cx="578.43" cy="267.42" r="1.42"/><circle cx="576.29" cy="266.14" r="1.42"/><circle cx="575.86" cy="269.13" r="1.42"/><circle cx="580.14" cy="269.56" r="1.42"/><circle cx="583.57" cy="269.13" r="1.42"/><circle cx="587.85" cy="268.28" r="1.42"/><circle cx="591.28" cy="268.28" r="1.42"/><circle cx="594.71" cy="267.85" r="1.42"/><circle cx="595.99" cy="269.56" r="1.42"/><circle cx="598.14" cy="269.13" r="1.42"/><circle cx="592.99" cy="269.56" r="1.42"/><circle cx="601.4" cy="245" r="1.42"/><circle cx="601.4" cy="250.7" r="1.42"/><circle cx="600" cy="255" r="1.42"/><circle cx="601.4" cy="263.6" r="1.42"/><circle cx="581.0" cy="271.43" r="1.42"/><circle cx="583.57" cy="270.57" r="1.42"/><circle cx="586.14" cy="271.43" r="1.42"/><circle cx="590.42" cy="271.0" r="1.42"/><circle cx="592.99" cy="270.57" r="1.42"/><circle cx="595.57" cy="270.14" r="1.42"/><circle cx="597.71" cy="270.57" r="1.42"/><circle cx="579.71" cy="274.43" r="1.42"/><circle cx="582.28" cy="274.43" r="1.42"/><circle cx="585.28" cy="276.57" r="1.42"/><circle cx="590.0" cy="274.0" r="1.42"/><circle cx="592.57" cy="274.43" r="1.42"/><circle cx="593.85" cy="276.57" r="1.42"/><circle cx="595.57" cy="276.57" r="1.42"/><circle cx="582.71" cy="277.0" r="1.42"/><circle cx="579.28" cy="278.28" r="1.42"/><circle cx="581.43" cy="279.14" r="1.42"/><circle cx="575.86" cy="279.14" r="1.42"/><circle cx="590.42" cy="278.71" r="1.42"/><circle cx="577.57" cy="281.28" r="1.42"/><circle cx="575.43" cy="282.14" r="1.42"/><circle cx="584.43" cy="280.85" r="1.42"/><circle cx="586.14" cy="280.85" r="1.42"/><circle cx="587.43" cy="282.57" r="1.42"/><circle cx="585.28" cy="283.42" r="1.42"/><circle cx="588.71" cy="284.28" r="1.42"/><circle cx="590.85" cy="283.85" r="1.42"/><circle cx="592.14" cy="282.14" r="1.42"/><circle cx="593.85" cy="280.85" r="1.42"/><circle cx="595.14" cy="280.0" r="1.42"/><circle cx="575.0" cy="289.42" r="1.42"/><circle cx="578.43" cy="289.42" r="1.42"/><circle cx="584.0" cy="288.14" r="1.42"/><circle cx="585.71" cy="288.14" r="1.42"/><circle cx="587.85" cy="288.14" r="1.42"/><circle cx="591.71" cy="288.57" r="1.42"/><circle cx="597.71" cy="288.57" r="1.42"/><circle cx="585.71" cy="292.85" r="1.42"/><circle cx="587.85" cy="292.85" r="1.42"/><circle cx="589.14" cy="291.31" r="1.42"/><circle cx="592.14" cy="295.42" r="1.42"/><circle cx="582.28" cy="297.56" r="1.42"/><circle cx="598.0" cy="237.3" r="1.42"/><circle cx="600.6" cy="238.2" r="1.42"/><circle cx="598.6" cy="239.3" r="1.42"/><circle cx="600.1" cy="240.2" r="1.42"/><circle cx="598.0" cy="241.3" r="1.42"/><circle cx="600.6" cy="242.2" r="1.42"/><circle cx="598.6" cy="243.3" r="1.42"/><circle cx="600.1" cy="244.2" r="1.42"/><circle cx="598.0" cy="245.3" r="1.42"/><circle cx="600.6" cy="246.2" r="1.42"/><circle cx="598.6" cy="247.3" r="1.42"/><circle cx="600.1" cy="248.2" r="1.42"/><circle cx="598.0" cy="249.3" r="1.42"/><circle cx="600.6" cy="250.2" r="1.42"/><circle cx="598.6" cy="251.3" r="1.42"/><circle cx="600.1" cy="252.2" r="1.42"/><circle cx="598.0" cy="253.3" r="1.42"/><circle cx="600.6" cy="254.2" r="1.42"/><circle cx="598.6" cy="255.3" r="1.42"/><circle cx="600.1" cy="256.2" r="1.42"/><circle cx="599.5" cy="229.5" r="1.42"/><circle cx="601.5" cy="231" r="1.42"/><circle cx="599" cy="232.5" r="1.42"/></g>
<line x1="458.5" y1="124.3" x2="458.5" y2="306.6" stroke="#777" stroke-width="1"/>
<line x1="458.0" y1="306.6" x2="683.8" y2="306.6" stroke="#777" stroke-width="1"/>
<line x1="463.00" y1="306.6" x2="463.00" y2="309.6" stroke="#555" stroke-width="0.9"/>
<text x="463.00" y="316.7" font-size="8.2" text-anchor="middle" fill="#3a3a3a" stroke="#3a3a3a" stroke-width="0.18" textLength="9.3" lengthAdjust="spacingAndGlyphs" >−5</text>
<line x1="489.85" y1="306.6" x2="489.85" y2="309.6" stroke="#555" stroke-width="0.9"/>
<text x="489.85" y="316.7" font-size="8.2" text-anchor="middle" fill="#3a3a3a" stroke="#3a3a3a" stroke-width="0.18" textLength="9.3" lengthAdjust="spacingAndGlyphs" >−4</text>
<line x1="516.70" y1="306.6" x2="516.70" y2="309.6" stroke="#555" stroke-width="0.9"/>
<text x="516.70" y="316.7" font-size="8.2" text-anchor="middle" fill="#3a3a3a" stroke="#3a3a3a" stroke-width="0.18" textLength="9.3" lengthAdjust="spacingAndGlyphs" >−3</text>
<line x1="543.55" y1="306.6" x2="543.55" y2="309.6" stroke="#555" stroke-width="0.9"/>
<text x="543.55" y="316.7" font-size="8.2" text-anchor="middle" fill="#3a3a3a" stroke="#3a3a3a" stroke-width="0.18" textLength="9.3" lengthAdjust="spacingAndGlyphs" >−2</text>
<line x1="570.40" y1="306.6" x2="570.40" y2="309.6" stroke="#555" stroke-width="0.9"/>
<text x="570.40" y="316.7" font-size="8.2" text-anchor="middle" fill="#3a3a3a" stroke="#3a3a3a" stroke-width="0.18" textLength="9.3" lengthAdjust="spacingAndGlyphs" >−1</text>
<line x1="597.25" y1="306.6" x2="597.25" y2="309.6" stroke="#555" stroke-width="0.9"/>
<text x="597.25" y="316.7" font-size="8.2" text-anchor="middle" fill="#3a3a3a" stroke="#3a3a3a" stroke-width="0.18" >0</text>
<line x1="624.10" y1="306.6" x2="624.10" y2="309.6" stroke="#555" stroke-width="0.9"/>
<text x="624.10" y="316.7" font-size="8.2" text-anchor="middle" fill="#3a3a3a" stroke="#3a3a3a" stroke-width="0.18" >1</text>
<line x1="650.95" y1="306.6" x2="650.95" y2="309.6" stroke="#555" stroke-width="0.9"/>
<text x="650.95" y="316.7" font-size="8.2" text-anchor="middle" fill="#3a3a3a" stroke="#3a3a3a" stroke-width="0.18" >2</text>
<line x1="677.80" y1="306.6" x2="677.80" y2="309.6" stroke="#555" stroke-width="0.9"/>
<text x="677.80" y="316.7" font-size="8.2" text-anchor="middle" fill="#3a3a3a" stroke="#3a3a3a" stroke-width="0.18" >3</text>
<line x1="455.5" y1="140.10" x2="458.5" y2="140.10" stroke="#555" stroke-width="0.9"/>
<text x="452.5" y="142.80" font-size="8.2" text-anchor="end" fill="#3a3a3a" stroke="#3a3a3a" stroke-width="0.18" textLength="10.5" lengthAdjust="spacingAndGlyphs" >0.4</text>
<line x1="455.5" y1="177.50" x2="458.5" y2="177.50" stroke="#555" stroke-width="0.9"/>
<text x="452.5" y="180.20" font-size="8.2" text-anchor="end" fill="#3a3a3a" stroke="#3a3a3a" stroke-width="0.18" textLength="10.5" lengthAdjust="spacingAndGlyphs" >0.2</text>
<line x1="455.5" y1="214.90" x2="458.5" y2="214.90" stroke="#555" stroke-width="0.9"/>
<text x="452.5" y="217.60" font-size="8.2" text-anchor="end" fill="#3a3a3a" stroke="#3a3a3a" stroke-width="0.18" textLength="10.5" lengthAdjust="spacingAndGlyphs" >0.0</text>
<line x1="455.5" y1="252.30" x2="458.5" y2="252.30" stroke="#555" stroke-width="0.9"/>
<text x="452.5" y="255.00" font-size="8.2" text-anchor="end" fill="#3a3a3a" stroke="#3a3a3a" stroke-width="0.18" textLength="15.8" lengthAdjust="spacingAndGlyphs" >−0.2</text>
<line x1="455.5" y1="289.70" x2="458.5" y2="289.70" stroke="#555" stroke-width="0.9"/>
<text x="452.5" y="292.40" font-size="8.2" text-anchor="end" fill="#3a3a3a" stroke="#3a3a3a" stroke-width="0.18" textLength="15.8" lengthAdjust="spacingAndGlyphs" >−0.4</text>
<text x="542.5" y="328.0" font-size="8.9" text-anchor="start" fill="#3a3a3a" stroke="#3a3a3a" stroke-width="0.18" textLength="56.5" lengthAdjust="spacingAndGlyphs" >SFS_3_all-mu</text>
<text x="0" y="0" font-size="8.9" text-anchor="middle" fill="#3a3a3a" stroke="#3a3a3a" stroke-width="0.18" textLength="64.5" lengthAdjust="spacingAndGlyphs" transform="translate(420.5 216.1) rotate(-90)">SHAP value for</text>
<text x="0" y="0" font-size="8.9" text-anchor="middle" fill="#3a3a3a" stroke="#3a3a3a" stroke-width="0.18" textLength="57.3" lengthAdjust="spacingAndGlyphs" transform="translate(432.3 216.3) rotate(-90)">SFS_3_all-mu</text>
</svg>
</body></html>
